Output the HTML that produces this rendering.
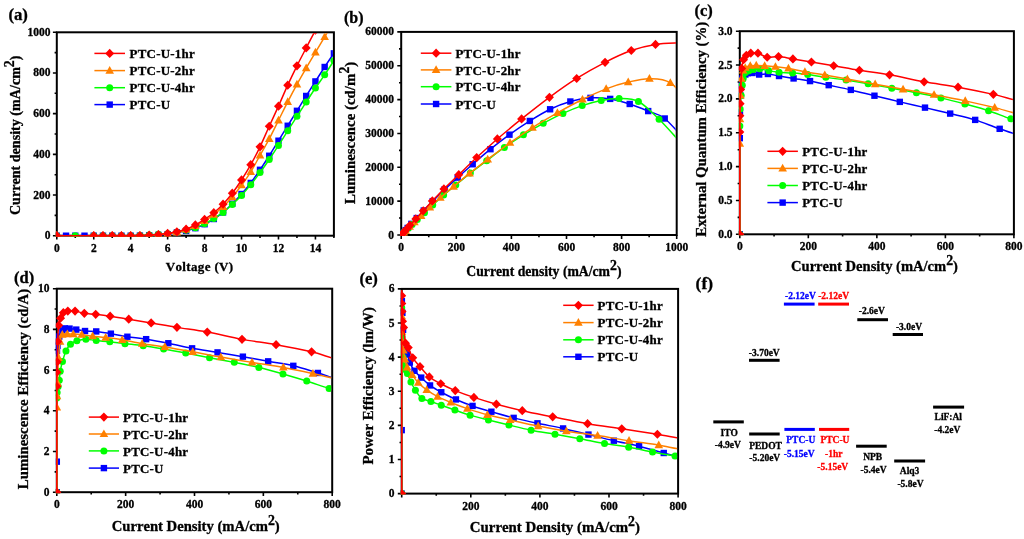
<!DOCTYPE html>
<html><head><meta charset="utf-8"><title>OLED device characteristics</title>
<style>html,body{margin:0;padding:0;background:#fff;width:1024px;height:539px;overflow:hidden}
svg{display:block;font-family:"Liberation Serif", serif;will-change:transform}
text{stroke:#000;stroke-width:0.3px;font-kerning:none}</style></head>
<body>
<svg width="1024" height="539" viewBox="0 0 1024 539" font-family='"Liberation Serif", serif' font-weight="bold">
<rect width="1024" height="539" fill="#fff"/>
<clipPath id="clipa"><rect x="55.8" y="33.3" width="277.1" height="203.4"/></clipPath>
<path d="M56.8 235.7V239.6M75.27 235.7V237.9M93.75 235.7V239.6M112.22 235.7V237.9M130.69 235.7V239.6M149.17 235.7V237.9M167.64 235.7V239.6M186.11 235.7V237.9M204.59 235.7V239.6M223.06 235.7V237.9M241.53 235.7V239.6M260.01 235.7V237.9M278.48 235.7V239.6M296.95 235.7V237.9M315.43 235.7V239.6M333.9 235.7V237.9M56.8 235.7H52.9M56.8 215.36H54.6M56.8 195.02H52.9M56.8 174.68H54.6M56.8 154.34H52.9M56.8 134H54.6M56.8 113.66H52.9M56.8 93.32H54.6M56.8 72.98H52.9M56.8 52.64H54.6M56.8 32.3H52.9" stroke="#000" stroke-width="1.6" fill="none"/>
<text x="56.8" y="252.3" text-anchor="middle" font-size="11.5">0</text>
<text x="93.75" y="252.3" text-anchor="middle" font-size="11.5">2</text>
<text x="130.69" y="252.3" text-anchor="middle" font-size="11.5">4</text>
<text x="167.64" y="252.3" text-anchor="middle" font-size="11.5">6</text>
<text x="204.59" y="252.3" text-anchor="middle" font-size="11.5">8</text>
<text x="241.53" y="252.3" text-anchor="middle" font-size="11.5">10</text>
<text x="278.48" y="252.3" text-anchor="middle" font-size="11.5">12</text>
<text x="315.43" y="252.3" text-anchor="middle" font-size="11.5">14</text>
<text x="50.6" y="239.2" text-anchor="end" font-size="11.5">0</text>
<text x="50.6" y="198.52" text-anchor="end" font-size="11.5">200</text>
<text x="50.6" y="157.84" text-anchor="end" font-size="11.5">400</text>
<text x="50.6" y="117.16" text-anchor="end" font-size="11.5">600</text>
<text x="50.6" y="76.48" text-anchor="end" font-size="11.5">800</text>
<text x="50.6" y="35.8" text-anchor="end" font-size="11.5">1000</text>
<rect x="56.8" y="32.3" width="277.1" height="203.4" fill="none" stroke="#000" stroke-width="2"/>
<g clip-path="url(#clipa)">
<path d="M56.8 235.7C58.34 235.7 62.96 235.7 66.04 235.7C69.12 235.7 72.19 235.7 75.27 235.7C78.35 235.7 81.43 235.7 84.51 235.7C87.59 235.7 90.67 235.7 93.75 235.7C96.83 235.7 99.9 235.7 102.98 235.7C106.06 235.7 109.14 235.7 112.22 235.7C115.3 235.7 118.38 235.7 121.46 235.7C124.54 235.7 127.61 235.71 130.69 235.69C133.77 235.67 136.85 235.66 139.93 235.6C143.01 235.53 146.09 235.41 149.17 235.29C152.25 235.17 155.32 235.06 158.4 234.89C161.48 234.71 164.56 234.65 167.64 234.24C170.72 233.82 173.8 232.96 176.88 232.4C179.96 231.85 183.03 231.63 186.11 230.92C189.19 230.21 192.27 229.29 195.35 228.17C198.43 227.06 201.51 225.73 204.59 224.21C207.67 222.68 210.74 220.99 213.82 219.02C216.9 217.06 219.98 214.95 223.06 212.41C226.14 209.87 229.22 206.83 232.3 203.77C235.38 200.7 238.45 197.48 241.53 194C244.61 190.53 247.69 186.95 250.77 182.92C253.85 178.88 256.93 174.32 260.01 169.8C263.09 165.27 266.16 160.61 269.24 155.76C272.32 150.92 275.4 145.71 278.48 140.71C281.56 135.71 284.64 130.75 287.72 125.76C290.8 120.78 293.87 115.78 296.95 110.81C300.03 105.85 303.11 100.86 306.19 95.96C309.27 91.07 312.35 86.25 315.43 81.42C318.51 76.59 321.58 71.66 324.66 66.98C327.74 62.3 330.82 57.66 333.9 53.35C336.98 49.05 340.06 45.67 343.14 41.15C346.22 36.62 350.83 28.69 352.37 26.2" stroke="#0000ff" stroke-width="1.5" fill="none" stroke-linejoin="round"/>
<rect x="53.6" y="232.5" width="6.4" height="6.4" fill="#0000ff"/>
<rect x="62.84" y="232.5" width="6.4" height="6.4" fill="#0000ff"/>
<rect x="72.07" y="232.5" width="6.4" height="6.4" fill="#0000ff"/>
<rect x="81.31" y="232.5" width="6.4" height="6.4" fill="#0000ff"/>
<rect x="90.55" y="232.5" width="6.4" height="6.4" fill="#0000ff"/>
<rect x="99.78" y="232.5" width="6.4" height="6.4" fill="#0000ff"/>
<rect x="109.02" y="232.5" width="6.4" height="6.4" fill="#0000ff"/>
<rect x="118.26" y="232.5" width="6.4" height="6.4" fill="#0000ff"/>
<rect x="127.49" y="232.49" width="6.4" height="6.4" fill="#0000ff"/>
<rect x="136.73" y="232.4" width="6.4" height="6.4" fill="#0000ff"/>
<rect x="145.97" y="232.09" width="6.4" height="6.4" fill="#0000ff"/>
<rect x="155.2" y="231.69" width="6.4" height="6.4" fill="#0000ff"/>
<rect x="164.44" y="231.04" width="6.4" height="6.4" fill="#0000ff"/>
<rect x="173.68" y="229.2" width="6.4" height="6.4" fill="#0000ff"/>
<rect x="182.91" y="227.72" width="6.4" height="6.4" fill="#0000ff"/>
<rect x="192.15" y="224.97" width="6.4" height="6.4" fill="#0000ff"/>
<rect x="201.39" y="221.01" width="6.4" height="6.4" fill="#0000ff"/>
<rect x="210.62" y="215.82" width="6.4" height="6.4" fill="#0000ff"/>
<rect x="219.86" y="209.21" width="6.4" height="6.4" fill="#0000ff"/>
<rect x="229.1" y="200.57" width="6.4" height="6.4" fill="#0000ff"/>
<rect x="238.33" y="190.8" width="6.4" height="6.4" fill="#0000ff"/>
<rect x="247.57" y="179.72" width="6.4" height="6.4" fill="#0000ff"/>
<rect x="256.81" y="166.6" width="6.4" height="6.4" fill="#0000ff"/>
<rect x="266.04" y="152.56" width="6.4" height="6.4" fill="#0000ff"/>
<rect x="275.28" y="137.51" width="6.4" height="6.4" fill="#0000ff"/>
<rect x="284.52" y="122.56" width="6.4" height="6.4" fill="#0000ff"/>
<rect x="293.75" y="107.61" width="6.4" height="6.4" fill="#0000ff"/>
<rect x="302.99" y="92.76" width="6.4" height="6.4" fill="#0000ff"/>
<rect x="312.23" y="78.22" width="6.4" height="6.4" fill="#0000ff"/>
<rect x="321.46" y="63.78" width="6.4" height="6.4" fill="#0000ff"/>
<rect x="330.7" y="50.15" width="6.4" height="6.4" fill="#0000ff"/>
<rect x="339.94" y="37.95" width="6.4" height="6.4" fill="#0000ff"/>
<rect x="349.17" y="23" width="6.4" height="6.4" fill="#0000ff"/>
</g>
<g clip-path="url(#clipa)">
<path d="M56.8 235.7C59.88 235.7 69.12 235.7 75.27 235.7C81.43 235.7 89.13 235.7 93.75 235.7C98.36 235.7 99.9 235.7 102.98 235.7C106.06 235.7 109.14 235.7 112.22 235.7C115.3 235.7 118.38 235.7 121.46 235.7C124.54 235.7 127.61 235.71 130.69 235.68C133.77 235.65 136.85 235.63 139.93 235.5C143.01 235.36 146.09 235.1 149.17 234.89C152.25 234.68 155.32 234.44 158.4 234.24C161.48 234.03 164.56 233.98 167.64 233.67C170.72 233.35 173.8 232.91 176.88 232.34C179.96 231.78 183.03 231.06 186.11 230.27C189.19 229.48 192.27 228.7 195.35 227.63C198.43 226.55 201.51 225.34 204.59 223.82C207.67 222.3 210.74 220.41 213.82 218.51C216.9 216.61 219.98 214.77 223.06 212.41C226.14 210.05 229.22 207.21 232.3 204.38C235.38 201.55 238.45 198.72 241.53 195.43C244.61 192.14 247.69 188.45 250.77 184.65C253.85 180.84 256.93 176.77 260.01 172.58C263.09 168.4 266.16 164.05 269.24 159.53C272.32 155 275.4 150.23 278.48 145.45C281.56 140.67 284.64 135.71 287.72 130.85C290.8 125.99 293.87 121.1 296.95 116.3C300.03 111.51 303.11 106.78 306.19 102.07C309.27 97.35 312.35 92.57 315.43 88.03C318.51 83.49 321.58 79.39 324.66 74.81C327.74 70.23 330.82 65.49 333.9 60.57C336.98 55.66 340.06 50.44 343.14 45.32C346.22 40.2 350.83 32.44 352.37 29.86" stroke="#00ff00" stroke-width="1.5" fill="none" stroke-linejoin="round"/>
<circle cx="56.8" cy="235.7" r="3.5" fill="#00ff00"/>
<circle cx="75.27" cy="235.7" r="3.5" fill="#00ff00"/>
<circle cx="93.75" cy="235.7" r="3.5" fill="#00ff00"/>
<circle cx="102.98" cy="235.7" r="3.5" fill="#00ff00"/>
<circle cx="112.22" cy="235.7" r="3.5" fill="#00ff00"/>
<circle cx="121.46" cy="235.7" r="3.5" fill="#00ff00"/>
<circle cx="130.69" cy="235.68" r="3.5" fill="#00ff00"/>
<circle cx="139.93" cy="235.5" r="3.5" fill="#00ff00"/>
<circle cx="149.17" cy="234.89" r="3.5" fill="#00ff00"/>
<circle cx="158.4" cy="234.24" r="3.5" fill="#00ff00"/>
<circle cx="167.64" cy="233.67" r="3.5" fill="#00ff00"/>
<circle cx="176.88" cy="232.34" r="3.5" fill="#00ff00"/>
<circle cx="186.11" cy="230.27" r="3.5" fill="#00ff00"/>
<circle cx="195.35" cy="227.63" r="3.5" fill="#00ff00"/>
<circle cx="204.59" cy="223.82" r="3.5" fill="#00ff00"/>
<circle cx="213.82" cy="218.51" r="3.5" fill="#00ff00"/>
<circle cx="223.06" cy="212.41" r="3.5" fill="#00ff00"/>
<circle cx="232.3" cy="204.38" r="3.5" fill="#00ff00"/>
<circle cx="241.53" cy="195.43" r="3.5" fill="#00ff00"/>
<circle cx="250.77" cy="184.65" r="3.5" fill="#00ff00"/>
<circle cx="260.01" cy="172.58" r="3.5" fill="#00ff00"/>
<circle cx="269.24" cy="159.53" r="3.5" fill="#00ff00"/>
<circle cx="278.48" cy="145.45" r="3.5" fill="#00ff00"/>
<circle cx="287.72" cy="130.85" r="3.5" fill="#00ff00"/>
<circle cx="296.95" cy="116.3" r="3.5" fill="#00ff00"/>
<circle cx="306.19" cy="102.07" r="3.5" fill="#00ff00"/>
<circle cx="315.43" cy="88.03" r="3.5" fill="#00ff00"/>
<circle cx="324.66" cy="74.81" r="3.5" fill="#00ff00"/>
<circle cx="333.9" cy="60.57" r="3.5" fill="#00ff00"/>
<circle cx="343.14" cy="45.32" r="3.5" fill="#00ff00"/>
<circle cx="352.37" cy="29.86" r="3.5" fill="#00ff00"/>
</g>
<g clip-path="url(#clipa)">
<path d="M56.8 235.7C62.96 235.7 86.05 235.7 93.75 235.7C101.44 235.7 99.9 235.7 102.98 235.7C106.06 235.7 109.14 235.7 112.22 235.7C115.3 235.7 118.38 235.7 121.46 235.7C124.54 235.7 127.61 235.7 130.69 235.68C133.77 235.66 136.85 235.66 139.93 235.6C143.01 235.53 146.09 235.45 149.17 235.29C152.25 235.14 155.32 234.94 158.4 234.68C161.48 234.43 164.56 234.14 167.64 233.77C170.72 233.39 173.8 233.16 176.88 232.45C179.96 231.73 183.03 230.56 186.11 229.48C189.19 228.39 192.27 227.36 195.35 225.94C198.43 224.52 201.51 222.85 204.59 220.95C207.67 219.06 210.74 216.9 213.82 214.55C216.9 212.19 219.98 209.73 223.06 206.82C226.14 203.9 229.22 200.65 232.3 197.05C235.38 193.46 238.45 189.46 241.53 185.26C244.61 181.05 247.69 176.82 250.77 171.83C253.85 166.85 256.93 160.87 260.01 155.36C263.09 149.85 266.16 144.61 269.24 138.78C272.32 132.95 275.4 126.53 278.48 120.37C281.56 114.22 284.64 107.86 287.72 101.86C290.8 95.86 293.87 90 296.95 84.37C300.03 78.74 303.11 73.42 306.19 68.1C309.27 62.78 312.35 57.62 315.43 52.44C318.51 47.25 321.58 42.2 324.66 36.98C327.74 31.76 332.36 23.76 333.9 21.11" stroke="#ff8000" stroke-width="1.5" fill="none" stroke-linejoin="round"/>
<path d="M56.8 231.1L61.1 238.8L52.5 238.8Z" fill="#ff8000"/>
<path d="M93.75 231.1L98.05 238.8L89.45 238.8Z" fill="#ff8000"/>
<path d="M102.98 231.1L107.28 238.8L98.68 238.8Z" fill="#ff8000"/>
<path d="M112.22 231.1L116.52 238.8L107.92 238.8Z" fill="#ff8000"/>
<path d="M121.46 231.1L125.76 238.8L117.16 238.8Z" fill="#ff8000"/>
<path d="M130.69 231.08L134.99 238.78L126.39 238.78Z" fill="#ff8000"/>
<path d="M139.93 231L144.23 238.7L135.63 238.7Z" fill="#ff8000"/>
<path d="M149.17 230.69L153.47 238.39L144.87 238.39Z" fill="#ff8000"/>
<path d="M158.4 230.08L162.7 237.78L154.1 237.78Z" fill="#ff8000"/>
<path d="M167.64 229.17L171.94 236.87L163.34 236.87Z" fill="#ff8000"/>
<path d="M176.88 227.85L181.18 235.55L172.58 235.55Z" fill="#ff8000"/>
<path d="M186.11 224.88L190.41 232.58L181.81 232.58Z" fill="#ff8000"/>
<path d="M195.35 221.34L199.65 229.04L191.05 229.04Z" fill="#ff8000"/>
<path d="M204.59 216.35L208.89 224.05L200.29 224.05Z" fill="#ff8000"/>
<path d="M213.82 209.95L218.12 217.65L209.52 217.65Z" fill="#ff8000"/>
<path d="M223.06 202.22L227.36 209.92L218.76 209.92Z" fill="#ff8000"/>
<path d="M232.3 192.45L236.6 200.15L228 200.15Z" fill="#ff8000"/>
<path d="M241.53 180.66L245.83 188.36L237.23 188.36Z" fill="#ff8000"/>
<path d="M250.77 167.23L255.07 174.93L246.47 174.93Z" fill="#ff8000"/>
<path d="M260.01 150.76L264.31 158.46L255.71 158.46Z" fill="#ff8000"/>
<path d="M269.24 134.18L273.54 141.88L264.94 141.88Z" fill="#ff8000"/>
<path d="M278.48 115.77L282.78 123.47L274.18 123.47Z" fill="#ff8000"/>
<path d="M287.72 97.26L292.02 104.96L283.42 104.96Z" fill="#ff8000"/>
<path d="M296.95 79.77L301.25 87.47L292.65 87.47Z" fill="#ff8000"/>
<path d="M306.19 63.5L310.49 71.2L301.89 71.2Z" fill="#ff8000"/>
<path d="M315.43 47.84L319.73 55.54L311.13 55.54Z" fill="#ff8000"/>
<path d="M324.66 32.38L328.96 40.08L320.36 40.08Z" fill="#ff8000"/>
<path d="M333.9 16.51L338.2 24.21L329.6 24.21Z" fill="#ff8000"/>
</g>
<g clip-path="url(#clipa)">
<path d="M56.8 235.7C62.96 235.7 86.05 235.7 93.75 235.7C101.44 235.7 99.9 235.7 102.98 235.7C106.06 235.7 109.14 235.7 112.22 235.7C115.3 235.7 118.38 235.7 121.46 235.69C124.54 235.68 127.61 235.67 130.69 235.64C133.77 235.61 136.85 235.57 139.93 235.5C143.01 235.42 146.09 235.34 149.17 235.19C152.25 235.04 155.32 234.87 158.4 234.58C161.48 234.29 164.56 233.92 167.64 233.46C170.72 233 173.8 232.55 176.88 231.84C179.96 231.12 183.03 230.34 186.11 229.19C189.19 228.04 192.27 226.55 195.35 224.92C198.43 223.29 201.51 221.46 204.59 219.43C207.67 217.39 210.74 215.26 213.82 212.72C216.9 210.17 219.98 207.43 223.06 204.17C226.14 200.92 229.22 197.22 232.3 193.19C235.38 189.16 238.45 184.71 241.53 179.97C244.61 175.22 247.69 170.24 250.77 164.71C253.85 159.19 256.93 153.22 260.01 146.81C263.09 140.41 266.16 133.05 269.24 126.27C272.32 119.49 275.4 112.98 278.48 106.13C281.56 99.29 284.64 91.9 287.72 85.18C290.8 78.47 293.87 72.06 296.95 65.86C300.03 59.66 303.11 53.89 306.19 47.96C309.27 42.03 313.89 33.22 315.43 30.27" stroke="#ff0000" stroke-width="1.5" fill="none" stroke-linejoin="round"/>
<path d="M56.8 231.1L61.3 235.7L56.8 240.3L52.3 235.7Z" fill="#ff0000"/>
<path d="M93.75 231.1L98.25 235.7L93.75 240.3L89.25 235.7Z" fill="#ff0000"/>
<path d="M102.98 231.1L107.48 235.7L102.98 240.3L98.48 235.7Z" fill="#ff0000"/>
<path d="M112.22 231.1L116.72 235.7L112.22 240.3L107.72 235.7Z" fill="#ff0000"/>
<path d="M121.46 231.09L125.96 235.69L121.46 240.29L116.96 235.69Z" fill="#ff0000"/>
<path d="M130.69 231.04L135.19 235.64L130.69 240.24L126.19 235.64Z" fill="#ff0000"/>
<path d="M139.93 230.9L144.43 235.5L139.93 240.1L135.43 235.5Z" fill="#ff0000"/>
<path d="M149.17 230.59L153.67 235.19L149.17 239.79L144.67 235.19Z" fill="#ff0000"/>
<path d="M158.4 229.98L162.9 234.58L158.4 239.18L153.9 234.58Z" fill="#ff0000"/>
<path d="M167.64 228.86L172.14 233.46L167.64 238.06L163.14 233.46Z" fill="#ff0000"/>
<path d="M176.88 227.24L181.38 231.84L176.88 236.44L172.38 231.84Z" fill="#ff0000"/>
<path d="M186.11 224.59L190.61 229.19L186.11 233.79L181.61 229.19Z" fill="#ff0000"/>
<path d="M195.35 220.32L199.85 224.92L195.35 229.52L190.85 224.92Z" fill="#ff0000"/>
<path d="M204.59 214.83L209.09 219.43L204.59 224.03L200.09 219.43Z" fill="#ff0000"/>
<path d="M213.82 208.12L218.32 212.72L213.82 217.32L209.32 212.72Z" fill="#ff0000"/>
<path d="M223.06 199.57L227.56 204.17L223.06 208.77L218.56 204.17Z" fill="#ff0000"/>
<path d="M232.3 188.59L236.8 193.19L232.3 197.79L227.8 193.19Z" fill="#ff0000"/>
<path d="M241.53 175.37L246.03 179.97L241.53 184.57L237.03 179.97Z" fill="#ff0000"/>
<path d="M250.77 160.11L255.27 164.71L250.77 169.31L246.27 164.71Z" fill="#ff0000"/>
<path d="M260.01 142.21L264.51 146.81L260.01 151.41L255.51 146.81Z" fill="#ff0000"/>
<path d="M269.24 121.67L273.74 126.27L269.24 130.87L264.74 126.27Z" fill="#ff0000"/>
<path d="M278.48 101.53L282.98 106.13L278.48 110.73L273.98 106.13Z" fill="#ff0000"/>
<path d="M287.72 80.58L292.22 85.18L287.72 89.78L283.22 85.18Z" fill="#ff0000"/>
<path d="M296.95 61.26L301.45 65.86L296.95 70.46L292.45 65.86Z" fill="#ff0000"/>
<path d="M306.19 43.36L310.69 47.96L306.19 52.56L301.69 47.96Z" fill="#ff0000"/>
<path d="M315.43 25.67L319.93 30.27L315.43 34.87L310.93 30.27Z" fill="#ff0000"/>
</g>
<path d="M94.4 53.4H125" stroke="#ff0000" stroke-width="1.5"/>
<path d="M109.7 48.8L114.2 53.4L109.7 58L105.2 53.4Z" fill="#ff0000"/>
<text x="129.6" y="58" font-size="12.9" letter-spacing="0.26">PTC-U-1hr</text>
<path d="M94.4 70.6H125" stroke="#ff8000" stroke-width="1.5"/>
<path d="M109.7 66L114 73.7L105.4 73.7Z" fill="#ff8000"/>
<text x="129.6" y="75.2" font-size="12.9" letter-spacing="0.26">PTC-U-2hr</text>
<path d="M94.4 87.7H125" stroke="#00ff00" stroke-width="1.5"/>
<circle cx="109.7" cy="87.7" r="3.5" fill="#00ff00"/>
<text x="129.6" y="92.3" font-size="12.9" letter-spacing="0.26">PTC-U-4hr</text>
<path d="M94.4 104.6H125" stroke="#0000ff" stroke-width="1.5"/>
<rect x="106.5" y="101.4" width="6.4" height="6.4" fill="#0000ff"/>
<text x="129.6" y="109.2" font-size="12.9" letter-spacing="0.26">PTC-U</text>
<text x="199.6" y="271.2" text-anchor="middle" font-size="13.0" letter-spacing="0.36">Voltage (V)</text>
<text transform="translate(20 135.3) rotate(-90)" text-anchor="middle" font-size="14.1">Current density (mA/cm<tspan font-size="13.8" dy="-6">2</tspan><tspan dy="6">)</tspan></text>
<text x="8.4" y="19.8" font-size="16.8">(a)</text>
<clipPath id="clipb"><rect x="400.2" y="32.9" width="275.5" height="203.1"/></clipPath>
<path d="M401.2 235V238.9M428.75 235V237.2M456.3 235V238.9M483.85 235V237.2M511.4 235V238.9M538.95 235V237.2M566.5 235V238.9M594.05 235V237.2M621.6 235V238.9M649.15 235V237.2M676.7 235V238.9M401.2 235H397.3M401.2 218.07H399M401.2 201.15H397.3M401.2 184.22H399M401.2 167.3H397.3M401.2 150.38H399M401.2 133.45H397.3M401.2 116.52H399M401.2 99.6H397.3M401.2 82.68H399M401.2 65.75H397.3M401.2 48.83H399M401.2 31.9H397.3" stroke="#000" stroke-width="1.6" fill="none"/>
<text x="401.2" y="250.7" text-anchor="middle" font-size="11.5">0</text>
<text x="456.3" y="250.7" text-anchor="middle" font-size="11.5">200</text>
<text x="511.4" y="250.7" text-anchor="middle" font-size="11.5">400</text>
<text x="566.5" y="250.7" text-anchor="middle" font-size="11.5">600</text>
<text x="621.6" y="250.7" text-anchor="middle" font-size="11.5">800</text>
<text x="676.7" y="250.7" text-anchor="middle" font-size="11.5">1000</text>
<text x="394" y="238.5" text-anchor="end" font-size="11.5">0</text>
<text x="394" y="204.65" text-anchor="end" font-size="11.5">10000</text>
<text x="394" y="170.8" text-anchor="end" font-size="11.5">20000</text>
<text x="394" y="136.95" text-anchor="end" font-size="11.5">30000</text>
<text x="394" y="103.1" text-anchor="end" font-size="11.5">40000</text>
<text x="394" y="69.25" text-anchor="end" font-size="11.5">50000</text>
<text x="394" y="35.4" text-anchor="end" font-size="11.5">60000</text>
<rect x="401.2" y="31.9" width="275.5" height="203.1" fill="none" stroke="#000" stroke-width="2"/>
<g clip-path="url(#clipb)">
<path d="M401.2 235C401.38 234.8 401.97 234.16 402.3 233.8C402.63 233.44 402.62 233.45 403.18 232.83C403.74 232.22 404.91 230.94 405.66 230.13C406.41 229.31 406.72 228.97 407.67 227.93C408.63 226.88 409.88 225.51 411.39 223.86C412.91 222.22 414.7 220.3 416.77 218.07C418.83 215.85 421.13 213.35 423.79 210.53C426.45 207.71 429.3 204.63 432.74 201.15C436.19 197.67 440.3 193.56 444.45 189.64C448.61 185.72 452.97 181.86 457.68 177.62C462.38 173.39 467.23 168.99 472.69 164.25C478.16 159.51 484.33 154.12 490.46 149.19C496.59 144.26 502.91 139.37 509.47 134.67C516.04 129.96 523.09 125.19 529.86 120.96C536.63 116.73 543.36 112.53 550.11 109.28C556.86 106.04 563.63 103.4 570.36 101.5C577.08 99.59 583.83 98.31 590.47 97.87C597.1 97.44 603.62 97.87 610.17 98.89C616.71 99.9 623.39 101.94 629.73 103.97C636.06 106 642.35 108.65 648.19 111.08C654.02 113.5 658.59 113.63 664.72 118.49C670.85 123.35 681.59 136.6 684.97 140.22" stroke="#0000ff" stroke-width="1.5" fill="none" stroke-linejoin="round"/>
<rect x="398" y="231.8" width="6.4" height="6.4" fill="#0000ff"/>
<rect x="399.1" y="230.6" width="6.4" height="6.4" fill="#0000ff"/>
<rect x="399.98" y="229.63" width="6.4" height="6.4" fill="#0000ff"/>
<rect x="402.46" y="226.93" width="6.4" height="6.4" fill="#0000ff"/>
<rect x="404.47" y="224.73" width="6.4" height="6.4" fill="#0000ff"/>
<rect x="408.19" y="220.66" width="6.4" height="6.4" fill="#0000ff"/>
<rect x="413.57" y="214.88" width="6.4" height="6.4" fill="#0000ff"/>
<rect x="420.59" y="207.33" width="6.4" height="6.4" fill="#0000ff"/>
<rect x="429.54" y="197.95" width="6.4" height="6.4" fill="#0000ff"/>
<rect x="441.25" y="186.44" width="6.4" height="6.4" fill="#0000ff"/>
<rect x="454.48" y="174.42" width="6.4" height="6.4" fill="#0000ff"/>
<rect x="469.49" y="161.05" width="6.4" height="6.4" fill="#0000ff"/>
<rect x="487.26" y="145.99" width="6.4" height="6.4" fill="#0000ff"/>
<rect x="506.27" y="131.47" width="6.4" height="6.4" fill="#0000ff"/>
<rect x="526.66" y="117.76" width="6.4" height="6.4" fill="#0000ff"/>
<rect x="546.91" y="106.08" width="6.4" height="6.4" fill="#0000ff"/>
<rect x="567.16" y="98.3" width="6.4" height="6.4" fill="#0000ff"/>
<rect x="587.27" y="94.67" width="6.4" height="6.4" fill="#0000ff"/>
<rect x="606.97" y="95.69" width="6.4" height="6.4" fill="#0000ff"/>
<rect x="626.53" y="100.77" width="6.4" height="6.4" fill="#0000ff"/>
<rect x="644.99" y="107.88" width="6.4" height="6.4" fill="#0000ff"/>
<rect x="661.52" y="115.29" width="6.4" height="6.4" fill="#0000ff"/>
<rect x="681.76" y="137.02" width="6.4" height="6.4" fill="#0000ff"/>
</g>
<g clip-path="url(#clipb)">
<path d="M401.2 235C401.53 234.68 402.72 233.54 403.18 233.1C403.64 232.66 403.53 232.77 403.95 232.36C404.38 231.95 404.98 231.37 405.75 230.63C406.51 229.9 407.49 228.98 408.56 227.96C409.62 226.94 410.68 225.9 412.14 224.51C413.59 223.11 415.23 221.54 417.29 219.6C419.35 217.65 421.9 215.25 424.48 212.83C427.06 210.4 429.55 208 432.74 205.04C435.94 202.08 439.79 198.41 443.63 195.06C447.46 191.7 451.3 188.57 455.75 184.9C460.2 181.23 465.19 177.1 470.35 173.05C475.51 169.01 481.02 164.9 486.69 160.63C492.36 156.37 498.25 151.76 504.37 147.46C510.5 143.17 516.97 138.89 523.44 134.87C529.91 130.85 536.64 126.95 543.22 123.36C549.8 119.78 556.42 116.34 562.92 113.38C569.42 110.42 575.82 107.74 582.2 105.59C588.59 103.44 595.06 101.66 601.21 100.48C607.37 99.3 612.92 98.31 619.12 98.48C625.32 98.65 631.75 98.03 638.41 101.5C645.06 104.96 652.13 112.53 659.07 119.27C666 126 676.52 138.14 680.01 141.91" stroke="#00ff00" stroke-width="1.5" fill="none" stroke-linejoin="round"/>
<circle cx="401.2" cy="235" r="3.5" fill="#00ff00"/>
<circle cx="403.18" cy="233.1" r="3.5" fill="#00ff00"/>
<circle cx="403.95" cy="232.36" r="3.5" fill="#00ff00"/>
<circle cx="405.75" cy="230.63" r="3.5" fill="#00ff00"/>
<circle cx="408.56" cy="227.96" r="3.5" fill="#00ff00"/>
<circle cx="412.14" cy="224.51" r="3.5" fill="#00ff00"/>
<circle cx="417.29" cy="219.6" r="3.5" fill="#00ff00"/>
<circle cx="424.48" cy="212.83" r="3.5" fill="#00ff00"/>
<circle cx="432.74" cy="205.04" r="3.5" fill="#00ff00"/>
<circle cx="443.63" cy="195.06" r="3.5" fill="#00ff00"/>
<circle cx="455.75" cy="184.9" r="3.5" fill="#00ff00"/>
<circle cx="470.35" cy="173.05" r="3.5" fill="#00ff00"/>
<circle cx="486.69" cy="160.63" r="3.5" fill="#00ff00"/>
<circle cx="504.37" cy="147.46" r="3.5" fill="#00ff00"/>
<circle cx="523.44" cy="134.87" r="3.5" fill="#00ff00"/>
<circle cx="543.22" cy="123.36" r="3.5" fill="#00ff00"/>
<circle cx="562.92" cy="113.38" r="3.5" fill="#00ff00"/>
<circle cx="582.2" cy="105.59" r="3.5" fill="#00ff00"/>
<circle cx="601.21" cy="100.48" r="3.5" fill="#00ff00"/>
<circle cx="619.12" cy="98.48" r="3.5" fill="#00ff00"/>
<circle cx="638.41" cy="101.5" r="3.5" fill="#00ff00"/>
<circle cx="659.07" cy="119.27" r="3.5" fill="#00ff00"/>
<circle cx="680.01" cy="141.91" r="3.5" fill="#00ff00"/>
</g>
<g clip-path="url(#clipb)">
<path d="M401.2 235C401.43 234.77 402.14 234.07 402.58 233.65C403.01 233.22 403.31 232.92 403.82 232.43C404.32 231.93 404.64 231.62 405.61 230.67C406.58 229.71 408.16 228.13 409.63 226.71C411.1 225.29 412.5 223.94 414.42 222.14C416.35 220.33 418.6 218.33 421.17 215.87C423.75 213.42 426.66 210.43 429.85 207.41C433.04 204.39 436.37 201.23 440.32 197.76C444.27 194.3 448.68 190.66 453.55 186.59C458.41 182.53 463.83 177.93 469.52 173.39C475.22 168.85 480.96 164.45 487.71 159.35C494.46 154.24 502.56 148.06 510.02 142.76C517.48 137.46 524.58 132.52 532.48 127.53C540.37 122.53 549.07 117.47 557.41 112.8C565.74 108.13 574.35 103.49 582.48 99.5C590.61 95.51 598.55 91.77 606.17 88.87C613.79 85.97 621 83.8 628.21 82.1C635.42 80.4 642.4 78.56 649.43 78.68C656.45 78.8 663.29 78.36 670.36 82.81C677.43 87.26 688.27 101.6 691.85 105.35" stroke="#ff8000" stroke-width="1.5" fill="none" stroke-linejoin="round"/>
<path d="M401.2 230.4L405.5 238.1L396.9 238.1Z" fill="#ff8000"/>
<path d="M402.58 229.05L406.88 236.75L398.28 236.75Z" fill="#ff8000"/>
<path d="M403.82 227.83L408.12 235.53L399.52 235.53Z" fill="#ff8000"/>
<path d="M405.61 226.07L409.91 233.77L401.31 233.77Z" fill="#ff8000"/>
<path d="M409.63 222.11L413.93 229.81L405.33 229.81Z" fill="#ff8000"/>
<path d="M414.42 217.54L418.72 225.24L410.12 225.24Z" fill="#ff8000"/>
<path d="M421.17 211.27L425.47 218.97L416.87 218.97Z" fill="#ff8000"/>
<path d="M429.85 202.81L434.15 210.51L425.55 210.51Z" fill="#ff8000"/>
<path d="M440.32 193.16L444.62 200.86L436.02 200.86Z" fill="#ff8000"/>
<path d="M453.55 181.99L457.85 189.69L449.25 189.69Z" fill="#ff8000"/>
<path d="M469.52 168.79L473.82 176.49L465.22 176.49Z" fill="#ff8000"/>
<path d="M487.71 154.75L492.01 162.45L483.41 162.45Z" fill="#ff8000"/>
<path d="M510.02 138.16L514.32 145.86L505.72 145.86Z" fill="#ff8000"/>
<path d="M532.48 122.93L536.78 130.63L528.18 130.63Z" fill="#ff8000"/>
<path d="M557.41 108.2L561.71 115.9L553.11 115.9Z" fill="#ff8000"/>
<path d="M582.48 94.9L586.78 102.6L578.18 102.6Z" fill="#ff8000"/>
<path d="M606.17 84.27L610.47 91.97L601.87 91.97Z" fill="#ff8000"/>
<path d="M628.21 77.5L632.51 85.2L623.91 85.2Z" fill="#ff8000"/>
<path d="M649.43 74.08L653.73 81.78L645.13 81.78Z" fill="#ff8000"/>
<path d="M670.36 78.21L674.66 85.91L666.06 85.91Z" fill="#ff8000"/>
<path d="M691.85 100.75L696.15 108.45L687.55 108.45Z" fill="#ff8000"/>
</g>
<g clip-path="url(#clipb)">
<path d="M401.2 235C401.45 234.73 402.21 233.93 402.72 233.38C403.22 232.82 403.61 232.36 404.23 231.68C404.85 231.01 405.47 230.37 406.43 229.31C407.4 228.26 408.45 227.08 410.02 225.35C411.58 223.62 413.6 221.34 415.8 218.92C418.01 216.5 420.49 213.83 423.24 210.83C426 207.83 428.89 204.56 432.33 200.91C435.78 197.26 439.49 193.31 443.9 188.93C448.31 184.55 453.32 179.88 458.78 174.65C464.24 169.42 470.26 163.5 476.69 157.55C483.12 151.6 489.87 145.4 497.35 138.97C504.83 132.54 512.92 125.9 521.59 118.96C530.27 112.03 540.24 104.11 549.42 97.37C558.6 90.62 567.42 84.32 576.69 78.48C585.97 72.63 595.98 66.96 605.07 62.3C614.16 57.64 622.84 53.5 631.24 50.52C639.65 47.54 647.45 45.69 655.49 44.42C663.52 43.16 675.46 43.16 679.46 42.9" stroke="#ff0000" stroke-width="1.5" fill="none" stroke-linejoin="round"/>
<path d="M401.2 230.4L405.7 235L401.2 239.6L396.7 235Z" fill="#ff0000"/>
<path d="M402.72 228.78L407.22 233.38L402.72 237.98L398.22 233.38Z" fill="#ff0000"/>
<path d="M404.23 227.08L408.73 231.68L404.23 236.28L399.73 231.68Z" fill="#ff0000"/>
<path d="M406.43 224.71L410.93 229.31L406.43 233.91L401.93 229.31Z" fill="#ff0000"/>
<path d="M410.02 220.75L414.52 225.35L410.02 229.95L405.52 225.35Z" fill="#ff0000"/>
<path d="M415.8 214.32L420.3 218.92L415.8 223.52L411.3 218.92Z" fill="#ff0000"/>
<path d="M423.24 206.23L427.74 210.83L423.24 215.43L418.74 210.83Z" fill="#ff0000"/>
<path d="M432.33 196.31L436.83 200.91L432.33 205.51L427.83 200.91Z" fill="#ff0000"/>
<path d="M443.9 184.33L448.4 188.93L443.9 193.53L439.4 188.93Z" fill="#ff0000"/>
<path d="M458.78 170.05L463.28 174.65L458.78 179.25L454.28 174.65Z" fill="#ff0000"/>
<path d="M476.69 152.95L481.19 157.55L476.69 162.15L472.19 157.55Z" fill="#ff0000"/>
<path d="M497.35 134.37L501.85 138.97L497.35 143.57L492.85 138.97Z" fill="#ff0000"/>
<path d="M521.59 114.36L526.09 118.96L521.59 123.56L517.09 118.96Z" fill="#ff0000"/>
<path d="M549.42 92.77L553.92 97.37L549.42 101.97L544.92 97.37Z" fill="#ff0000"/>
<path d="M576.69 73.88L581.19 78.48L576.69 83.08L572.19 78.48Z" fill="#ff0000"/>
<path d="M605.07 57.7L609.57 62.3L605.07 66.9L600.57 62.3Z" fill="#ff0000"/>
<path d="M631.24 45.92L635.74 50.52L631.24 55.12L626.74 50.52Z" fill="#ff0000"/>
<path d="M655.49 39.82L659.99 44.42L655.49 49.02L650.99 44.42Z" fill="#ff0000"/>
<path d="M679.46 38.3L683.96 42.9L679.46 47.5L674.96 42.9Z" fill="#ff0000"/>
</g>
<path d="M420.8 53.2H451.4" stroke="#ff0000" stroke-width="1.5"/>
<path d="M436.1 48.6L440.6 53.2L436.1 57.8L431.6 53.2Z" fill="#ff0000"/>
<text x="455.4" y="57.8" font-size="12.9" letter-spacing="0.26">PTC-U-1hr</text>
<path d="M420.8 69.9H451.4" stroke="#ff8000" stroke-width="1.5"/>
<path d="M436.1 65.3L440.4 73L431.8 73Z" fill="#ff8000"/>
<text x="455.4" y="74.5" font-size="12.9" letter-spacing="0.26">PTC-U-2hr</text>
<path d="M420.8 86.7H451.4" stroke="#00ff00" stroke-width="1.5"/>
<circle cx="436.1" cy="86.7" r="3.5" fill="#00ff00"/>
<text x="455.4" y="91.3" font-size="12.9" letter-spacing="0.26">PTC-U-4hr</text>
<path d="M420.8 104H451.4" stroke="#0000ff" stroke-width="1.5"/>
<rect x="432.9" y="100.8" width="6.4" height="6.4" fill="#0000ff"/>
<text x="455.4" y="108.6" font-size="12.9" letter-spacing="0.26">PTC-U</text>
<text x="543.9" y="275.5" text-anchor="middle" font-size="13.7" letter-spacing="0">Current density (mA/cm<tspan font-size="13.8" dy="-6">2</tspan><tspan dy="6">)</tspan></text>
<text transform="translate(354.8 132.8) rotate(-90)" text-anchor="middle" font-size="14.9">Luminescence (cd/m<tspan font-size="13.8" dy="-6">2</tspan><tspan dy="6">)</tspan></text>
<text x="344" y="22.8" font-size="16">(b)</text>
<clipPath id="clipc"><rect x="738.8" y="32.2" width="274.1" height="203.1"/></clipPath>
<path d="M739.8 234.3V238.2M774.06 234.3V236.5M808.32 234.3V238.2M842.59 234.3V236.5M876.85 234.3V238.2M911.11 234.3V236.5M945.38 234.3V238.2M979.64 234.3V236.5M1013.9 234.3V238.2M739.8 234.3H735.9M739.8 217.38H737.6M739.8 200.45H735.9M739.8 183.53H737.6M739.8 166.6H735.9M739.8 149.68H737.6M739.8 132.75H735.9M739.8 115.82H737.6M739.8 98.9H735.9M739.8 81.97H737.6M739.8 65.05H735.9M739.8 48.12H737.6M739.8 31.2H735.9" stroke="#000" stroke-width="1.6" fill="none"/>
<text x="739.8" y="249.6" text-anchor="middle" font-size="11.5">0</text>
<text x="808.32" y="249.6" text-anchor="middle" font-size="11.5">200</text>
<text x="876.85" y="249.6" text-anchor="middle" font-size="11.5">400</text>
<text x="945.38" y="249.6" text-anchor="middle" font-size="11.5">600</text>
<text x="1013.9" y="249.6" text-anchor="middle" font-size="11.5">800</text>
<text x="732.6" y="237.8" text-anchor="end" font-size="11.5">0.0</text>
<text x="732.6" y="203.95" text-anchor="end" font-size="11.5">0.5</text>
<text x="732.6" y="170.1" text-anchor="end" font-size="11.5">1.0</text>
<text x="732.6" y="136.25" text-anchor="end" font-size="11.5">1.5</text>
<text x="732.6" y="102.4" text-anchor="end" font-size="11.5">2.0</text>
<text x="732.6" y="68.55" text-anchor="end" font-size="11.5">2.5</text>
<text x="732.6" y="34.7" text-anchor="end" font-size="11.5">3.0</text>
<rect x="739.8" y="31.2" width="274.1" height="203.1" fill="none" stroke="#000" stroke-width="2"/>
<g clip-path="url(#clipc)">
<path d="M739.8 234.3C739.8 218.28 739.79 158.48 739.82 138.17C739.85 117.86 739.86 119.55 739.97 112.44C740.08 105.33 740.29 100.03 740.49 95.52C740.69 91 740.87 88.18 741.17 85.36C741.47 82.54 741.57 80.4 742.27 78.59C742.96 76.78 744.42 75.43 745.35 74.53C746.28 73.63 746.66 73.43 747.85 73.17C749.04 72.91 750.59 72.75 752.48 72.97C754.36 73.2 756.59 74.36 759.16 74.53C761.73 74.7 764.58 73.74 767.9 73.99C771.21 74.23 774.75 75.27 779.03 76.02C783.31 76.76 788.42 77.61 793.59 78.45C798.76 79.3 804.18 79.98 810.04 81.09C815.89 82.21 821.92 83.69 828.71 85.16C835.51 86.62 843.19 88.14 850.81 89.9C858.43 91.66 866.29 93.72 874.45 95.72C882.62 97.72 891.38 99.89 899.81 101.88C908.23 103.86 916.59 105.68 924.99 107.63C933.38 109.59 941.81 111.55 950.17 113.59C958.54 115.63 966.93 117.35 975.18 119.89C983.43 122.43 991.54 126.12 999.68 128.82C1007.82 131.53 1016.13 134.92 1024.01 136.13C1031.89 137.35 1039.71 136.13 1046.96 136.13C1054.22 136.13 1059.9 136.13 1067.52 136.13C1075.14 136.13 1088.51 136.13 1092.7 136.13" stroke="#0000ff" stroke-width="1.5" fill="none" stroke-linejoin="round"/>
<rect x="736.6" y="231.1" width="6.4" height="6.4" fill="#0000ff"/>
<rect x="736.62" y="134.97" width="6.4" height="6.4" fill="#0000ff"/>
<rect x="736.77" y="109.24" width="6.4" height="6.4" fill="#0000ff"/>
<rect x="737.29" y="92.32" width="6.4" height="6.4" fill="#0000ff"/>
<rect x="737.97" y="82.16" width="6.4" height="6.4" fill="#0000ff"/>
<rect x="739.07" y="75.39" width="6.4" height="6.4" fill="#0000ff"/>
<rect x="742.15" y="71.33" width="6.4" height="6.4" fill="#0000ff"/>
<rect x="744.65" y="69.97" width="6.4" height="6.4" fill="#0000ff"/>
<rect x="749.28" y="69.77" width="6.4" height="6.4" fill="#0000ff"/>
<rect x="755.96" y="71.33" width="6.4" height="6.4" fill="#0000ff"/>
<rect x="764.7" y="70.79" width="6.4" height="6.4" fill="#0000ff"/>
<rect x="775.83" y="72.82" width="6.4" height="6.4" fill="#0000ff"/>
<rect x="790.39" y="75.25" width="6.4" height="6.4" fill="#0000ff"/>
<rect x="806.84" y="77.89" width="6.4" height="6.4" fill="#0000ff"/>
<rect x="825.51" y="81.96" width="6.4" height="6.4" fill="#0000ff"/>
<rect x="847.61" y="86.7" width="6.4" height="6.4" fill="#0000ff"/>
<rect x="871.25" y="92.52" width="6.4" height="6.4" fill="#0000ff"/>
<rect x="896.61" y="98.68" width="6.4" height="6.4" fill="#0000ff"/>
<rect x="921.79" y="104.43" width="6.4" height="6.4" fill="#0000ff"/>
<rect x="946.97" y="110.39" width="6.4" height="6.4" fill="#0000ff"/>
<rect x="971.98" y="116.69" width="6.4" height="6.4" fill="#0000ff"/>
<rect x="996.48" y="125.62" width="6.4" height="6.4" fill="#0000ff"/>
<rect x="1020.81" y="132.94" width="6.4" height="6.4" fill="#0000ff"/>
<rect x="1043.76" y="132.94" width="6.4" height="6.4" fill="#0000ff"/>
<rect x="1064.32" y="132.94" width="6.4" height="6.4" fill="#0000ff"/>
<rect x="1089.5" y="132.94" width="6.4" height="6.4" fill="#0000ff"/>
</g>
<g clip-path="url(#clipc)">
<path d="M739.8 234.3C739.81 216.25 739.78 146.85 739.83 125.98C739.89 105.11 739.92 114.13 740.14 109.05C740.37 103.98 740.82 99.46 741.17 95.52C741.52 91.57 741.92 88.18 742.27 85.36C742.61 82.54 742.7 80.73 743.23 78.59C743.76 76.45 744.5 73.78 745.45 72.5C746.41 71.21 747.62 71.38 748.95 70.87C750.27 70.36 751.59 69.79 753.4 69.45C755.21 69.11 757.25 68.6 759.81 68.84C762.37 69.08 765.55 70.3 768.75 70.87C771.96 71.45 775.06 71.94 779.03 72.29C783 72.64 787.8 72.62 792.56 72.97C797.33 73.32 802.1 73.66 807.64 74.39C813.18 75.13 819.39 76.42 825.8 77.37C832.21 78.32 839.06 79.02 846.12 80.08C853.17 81.14 860.5 82.37 868.11 83.74C875.73 85.1 883.77 86.76 891.82 88.27C899.87 89.78 908.24 91.2 916.42 92.81C924.61 94.41 932.84 96.02 940.92 97.88C949 99.75 956.97 101.84 964.9 103.98C972.84 106.11 980.89 108.2 988.55 110.68C996.2 113.16 1003.11 116.32 1010.82 118.87C1018.53 121.42 1026.52 124.8 1034.8 125.98C1043.08 127.16 1051.87 125.98 1060.5 125.98C1069.12 125.98 1082.2 125.98 1086.54 125.98" stroke="#00ff00" stroke-width="1.5" fill="none" stroke-linejoin="round"/>
<circle cx="739.8" cy="234.3" r="3.5" fill="#00ff00"/>
<circle cx="739.83" cy="125.98" r="3.5" fill="#00ff00"/>
<circle cx="740.14" cy="109.05" r="3.5" fill="#00ff00"/>
<circle cx="741.17" cy="95.52" r="3.5" fill="#00ff00"/>
<circle cx="742.27" cy="85.36" r="3.5" fill="#00ff00"/>
<circle cx="743.23" cy="78.59" r="3.5" fill="#00ff00"/>
<circle cx="745.45" cy="72.5" r="3.5" fill="#00ff00"/>
<circle cx="748.95" cy="70.87" r="3.5" fill="#00ff00"/>
<circle cx="753.4" cy="69.45" r="3.5" fill="#00ff00"/>
<circle cx="759.81" cy="68.84" r="3.5" fill="#00ff00"/>
<circle cx="768.75" cy="70.87" r="3.5" fill="#00ff00"/>
<circle cx="779.03" cy="72.29" r="3.5" fill="#00ff00"/>
<circle cx="792.56" cy="72.97" r="3.5" fill="#00ff00"/>
<circle cx="807.64" cy="74.39" r="3.5" fill="#00ff00"/>
<circle cx="825.8" cy="77.37" r="3.5" fill="#00ff00"/>
<circle cx="846.12" cy="80.08" r="3.5" fill="#00ff00"/>
<circle cx="868.11" cy="83.74" r="3.5" fill="#00ff00"/>
<circle cx="891.82" cy="88.27" r="3.5" fill="#00ff00"/>
<circle cx="916.42" cy="92.81" r="3.5" fill="#00ff00"/>
<circle cx="940.92" cy="97.88" r="3.5" fill="#00ff00"/>
<circle cx="964.9" cy="103.98" r="3.5" fill="#00ff00"/>
<circle cx="988.55" cy="110.68" r="3.5" fill="#00ff00"/>
<circle cx="1010.82" cy="118.87" r="3.5" fill="#00ff00"/>
<circle cx="1034.8" cy="125.98" r="3.5" fill="#00ff00"/>
<circle cx="1060.5" cy="125.98" r="3.5" fill="#00ff00"/>
<circle cx="1086.54" cy="125.98" r="3.5" fill="#00ff00"/>
</g>
<g clip-path="url(#clipc)">
<path d="M739.8 234.3C739.81 219.18 739.81 162.76 739.83 143.58C739.86 124.4 739.86 127.22 739.97 119.21C740.08 111.2 740.23 102.29 740.49 95.52C740.74 88.75 741.08 82.76 741.51 78.59C741.94 74.42 742.43 72.27 743.05 70.47C743.68 68.66 744.08 68.55 745.28 67.76C746.49 66.97 748.46 66.12 750.28 65.73C752.11 65.33 753.85 65.38 756.25 65.39C758.64 65.4 761.44 65.57 764.64 65.79C767.84 66.02 771.46 66.33 775.43 66.74C779.4 67.16 783.54 67.45 788.45 68.3C793.36 69.15 798.85 70.7 804.9 71.82C810.95 72.94 817.69 73.79 824.77 75C831.85 76.21 838.99 77.54 847.38 79.06C855.78 80.59 865.86 82.44 875.14 84.14C884.42 85.85 893.24 87.52 903.06 89.29C912.88 91.06 923.7 92.84 934.07 94.77C944.43 96.7 955.14 98.72 965.25 100.86C975.35 103.01 985.23 105.37 994.71 107.63C1004.19 109.9 1013.16 113.33 1022.12 114.47C1031.09 115.61 1039.77 114.47 1048.51 114.47C1057.24 114.47 1065.75 114.47 1074.54 114.47C1083.34 114.47 1096.82 114.47 1101.27 114.47" stroke="#ff8000" stroke-width="1.5" fill="none" stroke-linejoin="round"/>
<path d="M739.8 229.7L744.1 237.4L735.5 237.4Z" fill="#ff8000"/>
<path d="M739.83 138.98L744.13 146.68L735.53 146.68Z" fill="#ff8000"/>
<path d="M739.97 114.61L744.27 122.31L735.67 122.31Z" fill="#ff8000"/>
<path d="M740.49 90.92L744.79 98.62L736.19 98.62Z" fill="#ff8000"/>
<path d="M741.51 73.99L745.81 81.69L737.21 81.69Z" fill="#ff8000"/>
<path d="M743.05 65.87L747.35 73.57L738.75 73.57Z" fill="#ff8000"/>
<path d="M745.28 63.16L749.58 70.86L740.98 70.86Z" fill="#ff8000"/>
<path d="M750.28 61.13L754.58 68.83L745.98 68.83Z" fill="#ff8000"/>
<path d="M756.25 60.79L760.55 68.49L751.95 68.49Z" fill="#ff8000"/>
<path d="M764.64 61.19L768.94 68.89L760.34 68.89Z" fill="#ff8000"/>
<path d="M775.43 62.14L779.73 69.84L771.13 69.84Z" fill="#ff8000"/>
<path d="M788.45 63.7L792.75 71.4L784.15 71.4Z" fill="#ff8000"/>
<path d="M804.9 67.22L809.2 74.92L800.6 74.92Z" fill="#ff8000"/>
<path d="M824.77 70.4L829.07 78.1L820.47 78.1Z" fill="#ff8000"/>
<path d="M847.38 74.46L851.68 82.16L843.08 82.16Z" fill="#ff8000"/>
<path d="M875.14 79.54L879.44 87.24L870.84 87.24Z" fill="#ff8000"/>
<path d="M903.06 84.69L907.36 92.39L898.76 92.39Z" fill="#ff8000"/>
<path d="M934.07 90.17L938.37 97.87L929.77 97.87Z" fill="#ff8000"/>
<path d="M965.25 96.26L969.55 103.96L960.95 103.96Z" fill="#ff8000"/>
<path d="M994.71 103.03L999.01 110.73L990.41 110.73Z" fill="#ff8000"/>
<path d="M1022.12 109.87L1026.42 117.57L1017.82 117.57Z" fill="#ff8000"/>
<path d="M1048.51 109.87L1052.81 117.57L1044.21 117.57Z" fill="#ff8000"/>
<path d="M1074.54 109.87L1078.84 117.57L1070.24 117.57Z" fill="#ff8000"/>
<path d="M1101.27 109.87L1105.57 117.57L1096.97 117.57Z" fill="#ff8000"/>
</g>
<g clip-path="url(#clipc)">
<path d="M739.8 234.3C739.8 217.26 739.8 151.82 739.82 132.07C739.83 112.33 739.85 120.56 739.9 115.82C739.96 111.09 740.02 108.04 740.14 103.64C740.27 99.24 740.4 95.29 740.66 89.42C740.91 83.55 741.2 73.4 741.68 68.43C742.17 63.47 742.8 61.83 743.57 59.63C744.34 57.43 745.11 56.31 746.31 55.23C747.51 54.16 748.82 53.54 750.76 53.2C752.71 52.86 755.22 52.53 757.96 53.2C760.7 53.88 763.78 56.7 767.21 57.26C770.64 57.83 774.23 56.31 778.52 56.59C782.8 56.87 787.42 58.05 792.91 58.96C798.39 59.86 804.61 60.88 811.41 62C818.2 63.13 825.68 64.35 833.68 65.73C841.67 67.1 850.07 68.75 859.38 70.26C868.68 71.77 878.73 72.87 889.53 74.8C900.32 76.73 912.71 79.77 924.13 81.84C935.55 83.9 946.52 85.1 958.05 87.19C969.59 89.28 982.04 91.85 993.34 94.36C1004.65 96.88 1015.44 100.96 1025.89 102.28C1036.34 103.61 1046.05 102.28 1056.04 102.28C1066.04 102.28 1080.88 102.28 1085.85 102.28" stroke="#ff0000" stroke-width="1.5" fill="none" stroke-linejoin="round"/>
<path d="M739.8 229.7L744.3 234.3L739.8 238.9L735.3 234.3Z" fill="#ff0000"/>
<path d="M739.82 127.47L744.32 132.07L739.82 136.67L735.32 132.07Z" fill="#ff0000"/>
<path d="M739.9 111.22L744.4 115.82L739.9 120.42L735.4 115.82Z" fill="#ff0000"/>
<path d="M740.14 99.04L744.64 103.64L740.14 108.24L735.64 103.64Z" fill="#ff0000"/>
<path d="M740.66 84.82L745.16 89.42L740.66 94.02L736.16 89.42Z" fill="#ff0000"/>
<path d="M741.68 63.83L746.18 68.43L741.68 73.03L737.18 68.43Z" fill="#ff0000"/>
<path d="M743.57 55.03L748.07 59.63L743.57 64.23L739.07 59.63Z" fill="#ff0000"/>
<path d="M746.31 50.63L750.81 55.23L746.31 59.83L741.81 55.23Z" fill="#ff0000"/>
<path d="M750.76 48.6L755.26 53.2L750.76 57.8L746.26 53.2Z" fill="#ff0000"/>
<path d="M757.96 48.6L762.46 53.2L757.96 57.8L753.46 53.2Z" fill="#ff0000"/>
<path d="M767.21 52.66L771.71 57.26L767.21 61.86L762.71 57.26Z" fill="#ff0000"/>
<path d="M778.52 51.99L783.02 56.59L778.52 61.19L774.02 56.59Z" fill="#ff0000"/>
<path d="M792.91 54.36L797.41 58.96L792.91 63.56L788.41 58.96Z" fill="#ff0000"/>
<path d="M811.41 57.4L815.91 62L811.41 66.6L806.91 62Z" fill="#ff0000"/>
<path d="M833.68 61.13L838.18 65.73L833.68 70.33L829.18 65.73Z" fill="#ff0000"/>
<path d="M859.38 65.66L863.88 70.26L859.38 74.86L854.88 70.26Z" fill="#ff0000"/>
<path d="M889.53 70.2L894.03 74.8L889.53 79.4L885.03 74.8Z" fill="#ff0000"/>
<path d="M924.13 77.24L928.63 81.84L924.13 86.44L919.63 81.84Z" fill="#ff0000"/>
<path d="M958.05 82.59L962.55 87.19L958.05 91.79L953.55 87.19Z" fill="#ff0000"/>
<path d="M993.34 89.76L997.84 94.36L993.34 98.96L988.84 94.36Z" fill="#ff0000"/>
<path d="M1025.89 97.69L1030.39 102.28L1025.89 106.88L1021.39 102.28Z" fill="#ff0000"/>
<path d="M1056.04 97.69L1060.54 102.28L1056.04 106.88L1051.54 102.28Z" fill="#ff0000"/>
<path d="M1085.85 97.69L1090.35 102.28L1085.85 106.88L1081.35 102.28Z" fill="#ff0000"/>
</g>
<path d="M767.4 151.3H797.9" stroke="#ff0000" stroke-width="1.5"/>
<path d="M782.65 146.7L787.15 151.3L782.65 155.9L778.15 151.3Z" fill="#ff0000"/>
<text x="802.2" y="155.9" font-size="12.9" letter-spacing="0.26">PTC-U-1hr</text>
<path d="M767.4 168.4H797.9" stroke="#ff8000" stroke-width="1.5"/>
<path d="M782.65 163.8L786.95 171.5L778.35 171.5Z" fill="#ff8000"/>
<text x="802.2" y="173" font-size="12.9" letter-spacing="0.26">PTC-U-2hr</text>
<path d="M767.4 185.5H797.9" stroke="#00ff00" stroke-width="1.5"/>
<circle cx="782.65" cy="185.5" r="3.5" fill="#00ff00"/>
<text x="802.2" y="190.1" font-size="12.9" letter-spacing="0.26">PTC-U-4hr</text>
<path d="M767.4 202.6H797.9" stroke="#0000ff" stroke-width="1.5"/>
<rect x="779.45" y="199.4" width="6.4" height="6.4" fill="#0000ff"/>
<text x="802.2" y="207.2" font-size="12.9" letter-spacing="0.26">PTC-U</text>
<text x="874.5" y="270.9" text-anchor="middle" font-size="14.55" letter-spacing="0">Current Density (mA/cm<tspan font-size="13.8" dy="-6">2</tspan><tspan dy="6">)</tspan></text>
<text transform="translate(706.3 129.2) rotate(-90)" text-anchor="middle" font-size="14.8">External Quantum Efficiency (%)</text>
<text x="694.4" y="15.7" font-size="16.5">(c)</text>
<clipPath id="clipd"><rect x="55.8" y="289.7" width="275.4" height="203.5"/></clipPath>
<path d="M56.8 492.2V496.1M91.22 492.2V494.4M125.65 492.2V496.1M160.07 492.2V494.4M194.5 492.2V496.1M228.93 492.2V494.4M263.35 492.2V496.1M297.77 492.2V494.4M332.2 492.2V496.1M56.8 492.2H52.9M56.8 471.85H54.6M56.8 451.5H52.9M56.8 431.15H54.6M56.8 410.8H52.9M56.8 390.45H54.6M56.8 370.1H52.9M56.8 349.75H54.6M56.8 329.4H52.9M56.8 309.05H54.6M56.8 288.7H52.9" stroke="#000" stroke-width="1.6" fill="none"/>
<text x="56.8" y="508.4" text-anchor="middle" font-size="11.5">0</text>
<text x="125.65" y="508.4" text-anchor="middle" font-size="11.5">200</text>
<text x="194.5" y="508.4" text-anchor="middle" font-size="11.5">400</text>
<text x="263.35" y="508.4" text-anchor="middle" font-size="11.5">600</text>
<text x="332.2" y="508.4" text-anchor="middle" font-size="11.5">800</text>
<text x="49.6" y="495.7" text-anchor="end" font-size="11.5">0</text>
<text x="49.6" y="455" text-anchor="end" font-size="11.5">2</text>
<text x="49.6" y="414.3" text-anchor="end" font-size="11.5">4</text>
<text x="49.6" y="373.6" text-anchor="end" font-size="11.5">6</text>
<text x="49.6" y="332.9" text-anchor="end" font-size="11.5">8</text>
<text x="49.6" y="292.2" text-anchor="end" font-size="11.5">10</text>
<rect x="56.8" y="288.7" width="275.4" height="203.5" fill="none" stroke="#000" stroke-width="2"/>
<g clip-path="url(#clipd)">
<path d="M56.8 492.2C56.8 487.11 56.79 485.25 56.82 461.67C56.85 438.1 56.86 370.1 56.97 350.77C57.08 331.44 57.29 347.21 57.49 345.68C57.69 344.15 57.88 343.14 58.18 341.61C58.48 340.08 58.58 338.39 59.28 336.52C59.98 334.66 61.44 331.77 62.38 330.42C63.31 329.06 63.7 328.69 64.89 328.38C66.08 328.08 67.64 328.38 69.54 328.59C71.43 328.79 73.67 329.2 76.25 329.6C78.83 330.01 81.7 330.72 85.03 331.03C88.36 331.33 91.91 330.99 96.22 331.43C100.52 331.88 105.65 332.79 110.85 333.67C116.04 334.56 121.49 335.81 127.37 336.73C133.25 337.64 139.31 338.08 146.13 339.17C152.96 340.25 160.68 341.71 168.34 343.24C176 344.76 183.89 346.8 192.09 348.33C200.29 349.85 209.1 351 217.56 352.4C226.03 353.79 234.43 355.18 242.87 356.67C251.3 358.16 259.76 359.82 268.17 361.35C276.57 362.88 285.01 363.89 293.3 365.83C301.59 367.76 309.74 370.54 317.91 372.95C326.09 375.36 334.44 379.05 342.36 380.27C350.27 381.5 358.13 380.27 365.42 380.27C372.71 380.27 378.42 380.27 386.08 380.27C393.73 380.27 407.16 380.27 411.38 380.27" stroke="#0000ff" stroke-width="1.5" fill="none" stroke-linejoin="round"/>
<rect x="53.6" y="489" width="6.4" height="6.4" fill="#0000ff"/>
<rect x="53.62" y="458.47" width="6.4" height="6.4" fill="#0000ff"/>
<rect x="53.77" y="347.57" width="6.4" height="6.4" fill="#0000ff"/>
<rect x="54.29" y="342.48" width="6.4" height="6.4" fill="#0000ff"/>
<rect x="54.98" y="338.41" width="6.4" height="6.4" fill="#0000ff"/>
<rect x="56.08" y="333.32" width="6.4" height="6.4" fill="#0000ff"/>
<rect x="59.18" y="327.22" width="6.4" height="6.4" fill="#0000ff"/>
<rect x="61.69" y="325.18" width="6.4" height="6.4" fill="#0000ff"/>
<rect x="66.34" y="325.39" width="6.4" height="6.4" fill="#0000ff"/>
<rect x="73.05" y="326.4" width="6.4" height="6.4" fill="#0000ff"/>
<rect x="81.83" y="327.83" width="6.4" height="6.4" fill="#0000ff"/>
<rect x="93.02" y="328.23" width="6.4" height="6.4" fill="#0000ff"/>
<rect x="107.65" y="330.47" width="6.4" height="6.4" fill="#0000ff"/>
<rect x="124.17" y="333.53" width="6.4" height="6.4" fill="#0000ff"/>
<rect x="142.93" y="335.97" width="6.4" height="6.4" fill="#0000ff"/>
<rect x="165.14" y="340.04" width="6.4" height="6.4" fill="#0000ff"/>
<rect x="188.89" y="345.13" width="6.4" height="6.4" fill="#0000ff"/>
<rect x="214.36" y="349.2" width="6.4" height="6.4" fill="#0000ff"/>
<rect x="239.67" y="353.47" width="6.4" height="6.4" fill="#0000ff"/>
<rect x="264.97" y="358.15" width="6.4" height="6.4" fill="#0000ff"/>
<rect x="290.1" y="362.63" width="6.4" height="6.4" fill="#0000ff"/>
<rect x="314.71" y="369.75" width="6.4" height="6.4" fill="#0000ff"/>
<rect x="339.16" y="377.07" width="6.4" height="6.4" fill="#0000ff"/>
<rect x="362.22" y="377.07" width="6.4" height="6.4" fill="#0000ff"/>
<rect x="382.88" y="377.07" width="6.4" height="6.4" fill="#0000ff"/>
<rect x="408.18" y="377.07" width="6.4" height="6.4" fill="#0000ff"/>
</g>
<g clip-path="url(#clipd)">
<path d="M56.8 492.2C56.81 476.5 56.78 414.6 56.83 397.98C56.89 381.36 56.92 394.42 57.14 392.49C57.37 390.55 57.82 388.42 58.18 386.38C58.53 384.34 58.93 382.78 59.28 380.27C59.62 377.77 59.71 374.44 60.24 371.32C60.78 368.2 61.52 364.94 62.48 361.55C63.44 358.16 64.66 353.85 65.99 350.97C67.32 348.09 68.65 345.95 70.47 344.26C72.29 342.56 74.33 341.64 76.9 340.8C79.47 339.95 82.67 339.2 85.89 339.17C89.11 339.13 92.23 340.15 96.22 340.59C100.2 341.03 105.02 341.3 109.81 341.81C114.61 342.32 119.4 343 124.96 343.64C130.53 344.29 136.76 344.8 143.21 345.68C149.65 346.56 156.53 347.72 163.62 348.94C170.71 350.16 178.07 351.55 185.72 353.01C193.38 354.46 201.45 356.13 209.54 357.69C217.63 359.25 226.04 360.74 234.26 362.37C242.48 363.99 250.76 365.52 258.87 367.45C266.99 369.39 275 371.69 282.97 373.97C290.95 376.24 299.04 378.68 306.73 381.09C314.41 383.5 321.36 386.01 329.1 388.41C336.85 390.82 344.88 394.35 353.2 395.54C361.52 396.72 370.35 395.54 379.02 395.54C387.68 395.54 400.82 395.54 405.18 395.54" stroke="#00ff00" stroke-width="1.5" fill="none" stroke-linejoin="round"/>
<circle cx="56.8" cy="492.2" r="3.5" fill="#00ff00"/>
<circle cx="56.83" cy="397.98" r="3.5" fill="#00ff00"/>
<circle cx="57.14" cy="392.49" r="3.5" fill="#00ff00"/>
<circle cx="58.18" cy="386.38" r="3.5" fill="#00ff00"/>
<circle cx="59.28" cy="380.27" r="3.5" fill="#00ff00"/>
<circle cx="60.24" cy="371.32" r="3.5" fill="#00ff00"/>
<circle cx="62.48" cy="361.55" r="3.5" fill="#00ff00"/>
<circle cx="65.99" cy="350.97" r="3.5" fill="#00ff00"/>
<circle cx="70.47" cy="344.26" r="3.5" fill="#00ff00"/>
<circle cx="76.9" cy="340.8" r="3.5" fill="#00ff00"/>
<circle cx="85.89" cy="339.17" r="3.5" fill="#00ff00"/>
<circle cx="96.22" cy="340.59" r="3.5" fill="#00ff00"/>
<circle cx="109.81" cy="341.81" r="3.5" fill="#00ff00"/>
<circle cx="124.96" cy="343.64" r="3.5" fill="#00ff00"/>
<circle cx="143.21" cy="345.68" r="3.5" fill="#00ff00"/>
<circle cx="163.62" cy="348.94" r="3.5" fill="#00ff00"/>
<circle cx="185.72" cy="353.01" r="3.5" fill="#00ff00"/>
<circle cx="209.54" cy="357.69" r="3.5" fill="#00ff00"/>
<circle cx="234.26" cy="362.37" r="3.5" fill="#00ff00"/>
<circle cx="258.87" cy="367.45" r="3.5" fill="#00ff00"/>
<circle cx="282.97" cy="373.97" r="3.5" fill="#00ff00"/>
<circle cx="306.73" cy="381.09" r="3.5" fill="#00ff00"/>
<circle cx="329.1" cy="388.41" r="3.5" fill="#00ff00"/>
<circle cx="353.2" cy="395.54" r="3.5" fill="#00ff00"/>
<circle cx="379.02" cy="395.54" r="3.5" fill="#00ff00"/>
<circle cx="405.18" cy="395.54" r="3.5" fill="#00ff00"/>
</g>
<g clip-path="url(#clipd)">
<path d="M56.8 492.2C56.81 478.06 56.81 423.35 56.83 407.34C56.86 391.33 56.86 400.18 56.97 396.15C57.08 392.11 57.23 389.5 57.49 383.12C57.75 376.75 58.09 364.81 58.52 357.89C58.95 350.97 59.44 345.48 60.07 341.61C60.7 337.74 61.1 335.95 62.31 334.69C63.52 333.44 65.5 334.18 67.33 334.08C69.17 333.98 70.92 333.98 73.32 334.08C75.73 334.18 78.55 334.35 81.76 334.69C84.97 335.03 88.61 335.64 92.6 336.12C96.59 336.59 100.75 336.93 105.68 337.54C110.62 338.15 116.13 338.76 122.21 339.78C128.29 340.8 135.06 342.46 142.17 343.64C149.29 344.83 156.46 345.54 164.89 346.9C173.33 348.26 183.46 350.09 192.78 351.78C202.1 353.48 210.97 355.31 220.84 357.08C230.7 358.84 241.58 360.64 251.99 362.37C262.4 364.1 273.16 365.59 283.32 367.45C293.47 369.32 303.4 371.59 312.92 373.56C322.45 375.53 331.45 378.31 340.46 379.26C349.47 380.21 358.19 379.26 366.97 379.26C375.75 379.26 384.3 379.26 393.13 379.26C401.97 379.26 415.51 379.26 419.98 379.26" stroke="#ff8000" stroke-width="1.5" fill="none" stroke-linejoin="round"/>
<path d="M56.8 487.6L61.1 495.3L52.5 495.3Z" fill="#ff8000"/>
<path d="M56.83 402.74L61.13 410.44L52.53 410.44Z" fill="#ff8000"/>
<path d="M56.97 391.55L61.27 399.25L52.67 399.25Z" fill="#ff8000"/>
<path d="M57.49 378.52L61.79 386.22L53.19 386.22Z" fill="#ff8000"/>
<path d="M58.52 353.29L62.82 360.99L54.22 360.99Z" fill="#ff8000"/>
<path d="M60.07 337.01L64.37 344.71L55.77 344.71Z" fill="#ff8000"/>
<path d="M62.31 330.09L66.61 337.79L58.01 337.79Z" fill="#ff8000"/>
<path d="M67.33 329.48L71.63 337.18L63.03 337.18Z" fill="#ff8000"/>
<path d="M73.32 329.48L77.62 337.18L69.02 337.18Z" fill="#ff8000"/>
<path d="M81.76 330.09L86.06 337.79L77.46 337.79Z" fill="#ff8000"/>
<path d="M92.6 331.52L96.9 339.22L88.3 339.22Z" fill="#ff8000"/>
<path d="M105.68 332.94L109.98 340.64L101.38 340.64Z" fill="#ff8000"/>
<path d="M122.21 335.18L126.51 342.88L117.91 342.88Z" fill="#ff8000"/>
<path d="M142.17 339.04L146.47 346.75L137.87 346.75Z" fill="#ff8000"/>
<path d="M164.89 342.3L169.19 350L160.59 350Z" fill="#ff8000"/>
<path d="M192.78 347.18L197.08 354.88L188.48 354.88Z" fill="#ff8000"/>
<path d="M220.84 352.48L225.14 360.18L216.54 360.18Z" fill="#ff8000"/>
<path d="M251.99 357.77L256.29 365.47L247.69 365.47Z" fill="#ff8000"/>
<path d="M283.32 362.85L287.62 370.55L279.02 370.55Z" fill="#ff8000"/>
<path d="M312.92 368.96L317.22 376.66L308.62 376.66Z" fill="#ff8000"/>
<path d="M340.46 374.66L344.76 382.36L336.16 382.36Z" fill="#ff8000"/>
<path d="M366.97 374.66L371.27 382.36L362.67 382.36Z" fill="#ff8000"/>
<path d="M393.13 374.66L397.43 382.36L388.83 382.36Z" fill="#ff8000"/>
<path d="M419.98 374.66L424.28 382.36L415.68 382.36Z" fill="#ff8000"/>
</g>
<g clip-path="url(#clipd)">
<path d="M56.8 492.2C56.8 474.56 56.8 406.39 56.82 386.38C56.83 366.37 56.85 376.2 56.9 372.13C56.96 368.06 57.02 367.05 57.14 361.96C57.27 356.87 57.4 347.72 57.66 341.61C57.92 335.5 58.21 329.23 58.69 325.33C59.18 321.43 59.81 320.31 60.59 318.21C61.36 316.1 62.14 313.9 63.34 312.71C64.55 311.53 65.87 311.36 67.82 311.08C69.77 310.81 72.29 310.71 75.05 311.08C77.8 311.46 80.9 312.78 84.34 313.32C87.78 313.87 91.4 313.87 95.7 314.34C100 314.82 104.65 315.36 110.16 316.17C115.67 316.99 121.92 318.11 128.75 319.23C135.58 320.34 143.09 321.53 151.12 322.89C159.16 324.24 167.59 325.84 176.94 327.37C186.3 328.89 196.39 330.04 207.24 332.05C218.08 334.05 230.53 337.27 242.01 339.37C253.48 341.47 264.5 342.59 276.09 344.66C287.68 346.73 300.18 349.07 311.55 351.78C322.91 354.5 333.75 359.42 344.25 360.94C354.75 362.47 364.5 360.94 374.54 360.94C384.58 360.94 399.5 360.94 404.49 360.94" stroke="#ff0000" stroke-width="1.5" fill="none" stroke-linejoin="round"/>
<path d="M56.8 487.6L61.3 492.2L56.8 496.8L52.3 492.2Z" fill="#ff0000"/>
<path d="M56.82 381.78L61.32 386.38L56.82 390.98L52.32 386.38Z" fill="#ff0000"/>
<path d="M56.9 367.53L61.4 372.13L56.9 376.74L52.4 372.13Z" fill="#ff0000"/>
<path d="M57.14 357.36L61.64 361.96L57.14 366.56L52.64 361.96Z" fill="#ff0000"/>
<path d="M57.66 337.01L62.16 341.61L57.66 346.21L53.16 341.61Z" fill="#ff0000"/>
<path d="M58.69 320.73L63.19 325.33L58.69 329.93L54.19 325.33Z" fill="#ff0000"/>
<path d="M60.59 313.61L65.09 318.21L60.59 322.81L56.09 318.21Z" fill="#ff0000"/>
<path d="M63.34 308.11L67.84 312.71L63.34 317.31L58.84 312.71Z" fill="#ff0000"/>
<path d="M67.82 306.48L72.32 311.08L67.82 315.69L63.32 311.08Z" fill="#ff0000"/>
<path d="M75.05 306.48L79.55 311.08L75.05 315.69L70.55 311.08Z" fill="#ff0000"/>
<path d="M84.34 308.72L88.84 313.32L84.34 317.92L79.84 313.32Z" fill="#ff0000"/>
<path d="M95.7 309.74L100.2 314.34L95.7 318.94L91.2 314.34Z" fill="#ff0000"/>
<path d="M110.16 311.57L114.66 316.17L110.16 320.77L105.66 316.17Z" fill="#ff0000"/>
<path d="M128.75 314.62L133.25 319.23L128.75 323.83L124.25 319.23Z" fill="#ff0000"/>
<path d="M151.12 318.29L155.62 322.89L151.12 327.49L146.62 322.89Z" fill="#ff0000"/>
<path d="M176.94 322.76L181.44 327.37L176.94 331.97L172.44 327.37Z" fill="#ff0000"/>
<path d="M207.24 327.45L211.74 332.05L207.24 336.65L202.74 332.05Z" fill="#ff0000"/>
<path d="M242.01 334.77L246.51 339.37L242.01 343.97L237.51 339.37Z" fill="#ff0000"/>
<path d="M276.09 340.06L280.59 344.66L276.09 349.26L271.59 344.66Z" fill="#ff0000"/>
<path d="M311.55 347.18L316.05 351.78L311.55 356.38L307.05 351.78Z" fill="#ff0000"/>
<path d="M344.25 356.34L348.75 360.94L344.25 365.54L339.75 360.94Z" fill="#ff0000"/>
<path d="M374.54 356.34L379.04 360.94L374.54 365.54L370.04 360.94Z" fill="#ff0000"/>
<path d="M404.49 356.34L408.99 360.94L404.49 365.54L399.99 360.94Z" fill="#ff0000"/>
</g>
<path d="M88.8 417.1H119" stroke="#ff0000" stroke-width="1.5"/>
<path d="M103.9 412.5L108.4 417.1L103.9 421.7L99.4 417.1Z" fill="#ff0000"/>
<text x="123" y="421.7" font-size="12.9" letter-spacing="0.26">PTC-U-1hr</text>
<path d="M88.8 434H119" stroke="#ff8000" stroke-width="1.5"/>
<path d="M103.9 429.4L108.2 437.1L99.6 437.1Z" fill="#ff8000"/>
<text x="123" y="438.6" font-size="12.9" letter-spacing="0.26">PTC-U-2hr</text>
<path d="M88.8 450.9H119" stroke="#00ff00" stroke-width="1.5"/>
<circle cx="103.9" cy="450.9" r="3.5" fill="#00ff00"/>
<text x="123" y="455.5" font-size="12.9" letter-spacing="0.26">PTC-U-4hr</text>
<path d="M88.8 468.1H119" stroke="#0000ff" stroke-width="1.5"/>
<rect x="100.7" y="464.9" width="6.4" height="6.4" fill="#0000ff"/>
<text x="123" y="472.7" font-size="12.9" letter-spacing="0.26">PTC-U</text>
<text x="195.7" y="531.3" text-anchor="middle" font-size="14.66" letter-spacing="0">Current Density (mA/cm<tspan font-size="13.8" dy="-6">2</tspan><tspan dy="6">)</tspan></text>
<text transform="translate(27.5 389) rotate(-90)" text-anchor="middle" font-size="14.85">Luminescence Efficiency (cd/A)</text>
<text x="14.0" y="282.8" font-size="16.5">(d)</text>
<clipPath id="clipe"><rect x="400.7" y="289.9" width="276.4" height="204.7"/></clipPath>
<path d="M401.7 493.6V497.5M436.25 493.6V495.8M470.8 493.6V497.5M505.35 493.6V495.8M539.9 493.6V497.5M574.45 493.6V495.8M609 493.6V497.5M643.55 493.6V495.8M678.1 493.6V497.5M401.7 493.6H397.8M401.7 476.54H399.5M401.7 459.48H397.8M401.7 442.43H399.5M401.7 425.37H397.8M401.7 408.31H399.5M401.7 391.25H397.8M401.7 374.19H399.5M401.7 357.13H397.8M401.7 340.07H399.5M401.7 323.02H397.8M401.7 305.96H399.5M401.7 288.9H397.8" stroke="#000" stroke-width="1.6" fill="none"/>
<text x="470.8" y="510" text-anchor="middle" font-size="11.5">200</text>
<text x="539.9" y="510" text-anchor="middle" font-size="11.5">400</text>
<text x="609" y="510" text-anchor="middle" font-size="11.5">600</text>
<text x="678.1" y="510" text-anchor="middle" font-size="11.5">800</text>
<text x="394.5" y="497.1" text-anchor="end" font-size="11.5">0</text>
<text x="394.5" y="462.98" text-anchor="end" font-size="11.5">1</text>
<text x="394.5" y="428.87" text-anchor="end" font-size="11.5">2</text>
<text x="394.5" y="394.75" text-anchor="end" font-size="11.5">3</text>
<text x="394.5" y="360.63" text-anchor="end" font-size="11.5">4</text>
<text x="394.5" y="326.52" text-anchor="end" font-size="11.5">5</text>
<text x="394.5" y="292.4" text-anchor="end" font-size="11.5">6</text>
<rect x="401.7" y="288.9" width="276.4" height="204.7" fill="none" stroke="#000" stroke-width="2"/>
<g clip-path="url(#clipe)">
<path d="M401.7 493.6C401.7 483.02 401.69 462.21 401.72 430.14C401.75 398.07 401.76 320.74 401.87 301.18C401.99 281.62 402.19 308.01 402.39 312.78C402.59 317.56 402.78 323.64 403.08 329.84C403.38 336.04 403.49 345.87 404.19 349.97C404.89 354.06 406.36 352.3 407.3 354.4C408.24 356.51 408.62 359.86 409.82 362.59C411.02 365.32 412.58 368.28 414.48 370.78C416.38 373.28 418.63 375.16 421.22 377.6C423.81 380.05 426.69 383.01 430.03 385.45C433.37 387.9 436.94 389.94 441.26 392.27C445.58 394.6 450.73 397.16 455.94 399.44C461.15 401.71 466.63 403.87 472.53 405.92C478.43 407.97 484.5 409.73 491.36 411.72C498.21 413.71 505.95 415.93 513.64 417.86C521.33 419.79 529.25 421.56 537.48 423.32C545.72 425.08 554.55 426.56 563.05 428.44C571.54 430.31 579.98 432.53 588.44 434.58C596.91 436.63 605.4 438.79 613.84 440.72C622.27 442.65 630.74 444.13 639.06 446.18C647.38 448.22 655.56 450.9 663.76 453C671.97 455.11 680.35 457.83 688.29 458.8C696.24 459.77 704.13 458.8 711.44 458.8C718.75 458.8 724.48 458.8 732.17 458.8C739.86 458.8 753.33 458.8 757.57 458.8" stroke="#0000ff" stroke-width="1.5" fill="none" stroke-linejoin="round"/>
<rect x="398.5" y="490.4" width="6.4" height="6.4" fill="#0000ff"/>
<rect x="398.52" y="426.94" width="6.4" height="6.4" fill="#0000ff"/>
<rect x="398.67" y="297.98" width="6.4" height="6.4" fill="#0000ff"/>
<rect x="399.19" y="309.58" width="6.4" height="6.4" fill="#0000ff"/>
<rect x="399.88" y="326.64" width="6.4" height="6.4" fill="#0000ff"/>
<rect x="400.99" y="346.77" width="6.4" height="6.4" fill="#0000ff"/>
<rect x="404.1" y="351.2" width="6.4" height="6.4" fill="#0000ff"/>
<rect x="406.62" y="359.39" width="6.4" height="6.4" fill="#0000ff"/>
<rect x="411.28" y="367.58" width="6.4" height="6.4" fill="#0000ff"/>
<rect x="418.02" y="374.4" width="6.4" height="6.4" fill="#0000ff"/>
<rect x="426.83" y="382.25" width="6.4" height="6.4" fill="#0000ff"/>
<rect x="438.06" y="389.07" width="6.4" height="6.4" fill="#0000ff"/>
<rect x="452.74" y="396.24" width="6.4" height="6.4" fill="#0000ff"/>
<rect x="469.33" y="402.72" width="6.4" height="6.4" fill="#0000ff"/>
<rect x="488.16" y="408.52" width="6.4" height="6.4" fill="#0000ff"/>
<rect x="510.44" y="414.66" width="6.4" height="6.4" fill="#0000ff"/>
<rect x="534.28" y="420.12" width="6.4" height="6.4" fill="#0000ff"/>
<rect x="559.85" y="425.24" width="6.4" height="6.4" fill="#0000ff"/>
<rect x="585.24" y="431.38" width="6.4" height="6.4" fill="#0000ff"/>
<rect x="610.64" y="437.52" width="6.4" height="6.4" fill="#0000ff"/>
<rect x="635.86" y="442.98" width="6.4" height="6.4" fill="#0000ff"/>
<rect x="660.56" y="449.8" width="6.4" height="6.4" fill="#0000ff"/>
<rect x="685.09" y="455.6" width="6.4" height="6.4" fill="#0000ff"/>
<rect x="708.24" y="455.6" width="6.4" height="6.4" fill="#0000ff"/>
<rect x="728.97" y="455.6" width="6.4" height="6.4" fill="#0000ff"/>
<rect x="754.37" y="455.6" width="6.4" height="6.4" fill="#0000ff"/>
</g>
<g clip-path="url(#clipe)">
<path d="M401.7 493.6C401.71 462.61 401.68 333.82 401.73 307.66C401.79 281.51 401.82 328.42 402.05 336.66C402.27 344.91 402.72 352.3 403.08 357.13C403.44 361.97 403.84 363.62 404.19 365.66C404.53 367.71 404.62 368.11 405.15 369.42C405.69 370.72 406.44 371.41 407.4 373.51C408.36 375.61 409.59 379.25 410.92 382.04C412.26 384.82 413.59 387.5 415.42 390.23C417.24 392.96 419.3 396.54 421.88 398.41C424.46 400.29 427.66 400.35 430.89 401.49C434.13 402.62 437.26 403.82 441.26 405.24C445.26 406.66 450.1 408.37 454.91 410.01C459.72 411.66 464.52 413.48 470.11 415.13C475.69 416.78 481.95 418.26 488.42 419.91C494.89 421.56 501.8 423.32 508.91 425.03C516.02 426.73 523.41 428.61 531.09 430.14C538.77 431.68 546.88 432.82 555 434.24C563.12 435.66 571.55 437.14 579.81 438.67C588.06 440.21 596.36 442.03 604.51 443.45C612.66 444.87 620.69 445.78 628.69 447.2C636.7 448.62 644.82 450.5 652.53 451.98C660.25 453.46 667.22 454.71 674.99 456.07C682.76 457.44 690.83 459.48 699.18 460.17C707.53 460.85 716.39 460.17 725.09 460.17C733.78 460.17 746.97 460.17 751.35 460.17" stroke="#00ff00" stroke-width="1.5" fill="none" stroke-linejoin="round"/>
<circle cx="401.7" cy="493.6" r="3.5" fill="#00ff00"/>
<circle cx="401.73" cy="307.66" r="3.5" fill="#00ff00"/>
<circle cx="402.05" cy="336.66" r="3.5" fill="#00ff00"/>
<circle cx="403.08" cy="357.13" r="3.5" fill="#00ff00"/>
<circle cx="404.19" cy="365.66" r="3.5" fill="#00ff00"/>
<circle cx="405.15" cy="369.42" r="3.5" fill="#00ff00"/>
<circle cx="407.4" cy="373.51" r="3.5" fill="#00ff00"/>
<circle cx="410.92" cy="382.04" r="3.5" fill="#00ff00"/>
<circle cx="415.42" cy="390.23" r="3.5" fill="#00ff00"/>
<circle cx="421.88" cy="398.41" r="3.5" fill="#00ff00"/>
<circle cx="430.89" cy="401.49" r="3.5" fill="#00ff00"/>
<circle cx="441.26" cy="405.24" r="3.5" fill="#00ff00"/>
<circle cx="454.91" cy="410.01" r="3.5" fill="#00ff00"/>
<circle cx="470.11" cy="415.13" r="3.5" fill="#00ff00"/>
<circle cx="488.42" cy="419.91" r="3.5" fill="#00ff00"/>
<circle cx="508.91" cy="425.03" r="3.5" fill="#00ff00"/>
<circle cx="531.09" cy="430.14" r="3.5" fill="#00ff00"/>
<circle cx="555" cy="434.24" r="3.5" fill="#00ff00"/>
<circle cx="579.81" cy="438.67" r="3.5" fill="#00ff00"/>
<circle cx="604.51" cy="443.45" r="3.5" fill="#00ff00"/>
<circle cx="628.69" cy="447.2" r="3.5" fill="#00ff00"/>
<circle cx="652.53" cy="451.98" r="3.5" fill="#00ff00"/>
<circle cx="674.99" cy="456.07" r="3.5" fill="#00ff00"/>
<circle cx="699.18" cy="460.17" r="3.5" fill="#00ff00"/>
<circle cx="725.09" cy="460.17" r="3.5" fill="#00ff00"/>
<circle cx="751.35" cy="460.17" r="3.5" fill="#00ff00"/>
</g>
<g clip-path="url(#clipe)">
<path d="M401.7 493.6C401.71 464.03 401.71 343.2 401.73 316.19C401.76 289.18 401.76 327.28 401.87 331.55C401.98 335.81 402.13 338.65 402.39 341.78C402.65 344.91 403 347.35 403.43 350.31C403.86 353.27 404.35 356.68 404.98 359.52C405.62 362.36 406.01 364.81 407.23 367.37C408.44 369.93 410.43 372.32 412.27 374.87C414.11 377.43 415.87 380.22 418.28 382.72C420.7 385.22 423.52 387.55 426.75 389.89C429.97 392.22 433.63 394.6 437.63 396.71C441.63 398.81 445.81 400.52 450.76 402.51C455.71 404.5 461.24 406.6 467.35 408.65C473.45 410.7 480.24 412.91 487.38 414.79C494.52 416.67 501.72 418.03 510.19 419.91C518.65 421.78 528.82 424.17 538.17 426.05C547.53 427.93 556.43 429.57 566.33 431.17C576.24 432.76 587.15 434.01 597.6 435.6C608.05 437.19 618.85 439.13 629.04 440.72C639.23 442.31 649.19 443.62 658.75 445.15C668.31 446.69 677.35 449.13 686.39 449.93C695.43 450.73 704.19 449.93 713 449.93C721.81 449.93 730.39 449.93 739.25 449.93C748.12 449.93 761.71 449.93 766.2 449.93" stroke="#ff8000" stroke-width="1.5" fill="none" stroke-linejoin="round"/>
<path d="M401.7 489L406 496.7L397.4 496.7Z" fill="#ff8000"/>
<path d="M401.73 311.59L406.03 319.29L397.43 319.29Z" fill="#ff8000"/>
<path d="M401.87 326.95L406.17 334.65L397.57 334.65Z" fill="#ff8000"/>
<path d="M402.39 337.18L406.69 344.88L398.09 344.88Z" fill="#ff8000"/>
<path d="M403.43 345.71L407.73 353.41L399.13 353.41Z" fill="#ff8000"/>
<path d="M404.98 354.92L409.28 362.62L400.68 362.62Z" fill="#ff8000"/>
<path d="M407.23 362.77L411.53 370.47L402.93 370.47Z" fill="#ff8000"/>
<path d="M412.27 370.27L416.57 377.97L407.97 377.97Z" fill="#ff8000"/>
<path d="M418.28 378.12L422.58 385.82L413.98 385.82Z" fill="#ff8000"/>
<path d="M426.75 385.29L431.05 392.99L422.45 392.99Z" fill="#ff8000"/>
<path d="M437.63 392.11L441.93 399.81L433.33 399.81Z" fill="#ff8000"/>
<path d="M450.76 397.91L455.06 405.61L446.46 405.61Z" fill="#ff8000"/>
<path d="M467.35 404.05L471.65 411.75L463.05 411.75Z" fill="#ff8000"/>
<path d="M487.38 410.19L491.68 417.89L483.08 417.89Z" fill="#ff8000"/>
<path d="M510.19 415.31L514.49 423.01L505.89 423.01Z" fill="#ff8000"/>
<path d="M538.17 421.45L542.47 429.15L533.87 429.15Z" fill="#ff8000"/>
<path d="M566.33 426.57L570.63 434.27L562.03 434.27Z" fill="#ff8000"/>
<path d="M597.6 431L601.9 438.7L593.3 438.7Z" fill="#ff8000"/>
<path d="M629.04 436.12L633.34 443.82L624.74 443.82Z" fill="#ff8000"/>
<path d="M658.75 440.55L663.05 448.25L654.45 448.25Z" fill="#ff8000"/>
<path d="M686.39 445.33L690.69 453.03L682.09 453.03Z" fill="#ff8000"/>
<path d="M713 445.33L717.3 453.03L708.7 453.03Z" fill="#ff8000"/>
<path d="M739.25 445.33L743.55 453.03L734.95 453.03Z" fill="#ff8000"/>
<path d="M766.2 445.33L770.5 453.03L761.9 453.03Z" fill="#ff8000"/>
</g>
<g clip-path="url(#clipe)">
<path d="M401.7 493.6C401.7 460.62 401.7 327.39 401.72 295.72C401.73 264.05 401.75 300.95 401.8 303.57C401.86 306.19 401.92 308.46 402.05 311.42C402.17 314.37 402.3 318.64 402.56 321.31C402.82 323.98 403.11 323.81 403.6 327.45C404.09 331.09 404.72 339.79 405.5 343.15C406.28 346.5 407.06 345.14 408.26 347.58C409.47 350.03 410.8 354.63 412.76 357.82C414.71 361 417.25 363.5 420.01 366.69C422.78 369.87 425.88 374.08 429.34 376.92C432.79 379.76 436.42 381.47 440.74 383.74C445.06 386.02 449.72 388.29 455.25 390.57C460.78 392.84 467.06 395.12 473.91 397.39C480.76 399.67 488.31 402 496.37 404.21C504.43 406.43 512.89 408.59 522.28 410.7C531.67 412.8 541.8 414.68 552.68 416.84C563.57 419 576.06 421.67 587.58 423.66C599.1 425.65 610.15 427.02 621.78 428.78C633.42 430.54 645.97 432.42 657.37 434.24C668.77 436.06 679.65 438.79 690.19 439.7C700.73 440.61 710.52 439.7 720.6 439.7C730.67 439.7 745.65 439.7 750.65 439.7" stroke="#ff0000" stroke-width="1.5" fill="none" stroke-linejoin="round"/>
<path d="M401.7 489L406.2 493.6L401.7 498.2L397.2 493.6Z" fill="#ff0000"/>
<path d="M401.72 291.12L406.22 295.72L401.72 300.32L397.22 295.72Z" fill="#ff0000"/>
<path d="M401.8 298.97L406.3 303.57L401.8 308.17L397.3 303.57Z" fill="#ff0000"/>
<path d="M402.05 306.82L406.55 311.42L402.05 316.02L397.55 311.42Z" fill="#ff0000"/>
<path d="M402.56 316.71L407.06 321.31L402.56 325.91L398.06 321.31Z" fill="#ff0000"/>
<path d="M403.6 322.85L408.1 327.45L403.6 332.05L399.1 327.45Z" fill="#ff0000"/>
<path d="M405.5 338.55L410 343.15L405.5 347.75L401 343.15Z" fill="#ff0000"/>
<path d="M408.26 342.98L412.76 347.58L408.26 352.18L403.76 347.58Z" fill="#ff0000"/>
<path d="M412.76 353.22L417.26 357.82L412.76 362.42L408.26 357.82Z" fill="#ff0000"/>
<path d="M420.01 362.09L424.51 366.69L420.01 371.29L415.51 366.69Z" fill="#ff0000"/>
<path d="M429.34 372.32L433.84 376.92L429.34 381.52L424.84 376.92Z" fill="#ff0000"/>
<path d="M440.74 379.14L445.24 383.74L440.74 388.34L436.24 383.74Z" fill="#ff0000"/>
<path d="M455.25 385.97L459.75 390.57L455.25 395.17L450.75 390.57Z" fill="#ff0000"/>
<path d="M473.91 392.79L478.41 397.39L473.91 401.99L469.41 397.39Z" fill="#ff0000"/>
<path d="M496.37 399.61L500.87 404.21L496.37 408.81L491.87 404.21Z" fill="#ff0000"/>
<path d="M522.28 406.1L526.78 410.7L522.28 415.3L517.78 410.7Z" fill="#ff0000"/>
<path d="M552.68 412.24L557.18 416.84L552.68 421.44L548.18 416.84Z" fill="#ff0000"/>
<path d="M587.58 419.06L592.08 423.66L587.58 428.26L583.08 423.66Z" fill="#ff0000"/>
<path d="M621.78 424.18L626.28 428.78L621.78 433.38L617.28 428.78Z" fill="#ff0000"/>
<path d="M657.37 429.64L661.87 434.24L657.37 438.84L652.87 434.24Z" fill="#ff0000"/>
<path d="M690.19 435.1L694.69 439.7L690.19 444.3L685.69 439.7Z" fill="#ff0000"/>
<path d="M720.6 435.1L725.1 439.7L720.6 444.3L716.1 439.7Z" fill="#ff0000"/>
<path d="M750.65 435.1L755.15 439.7L750.65 444.3L746.15 439.7Z" fill="#ff0000"/>
</g>
<path d="M563.2 305.3H593.6" stroke="#ff0000" stroke-width="1.5"/>
<path d="M578.4 300.7L582.9 305.3L578.4 309.9L573.9 305.3Z" fill="#ff0000"/>
<text x="597.6" y="309.9" font-size="12.9" letter-spacing="0.26">PTC-U-1hr</text>
<path d="M563.2 322.6H593.6" stroke="#ff8000" stroke-width="1.5"/>
<path d="M578.4 318L582.7 325.7L574.1 325.7Z" fill="#ff8000"/>
<text x="597.6" y="327.2" font-size="12.9" letter-spacing="0.26">PTC-U-2hr</text>
<path d="M563.2 339.8H593.6" stroke="#00ff00" stroke-width="1.5"/>
<circle cx="578.4" cy="339.8" r="3.5" fill="#00ff00"/>
<text x="597.6" y="344.4" font-size="12.9" letter-spacing="0.26">PTC-U-4hr</text>
<path d="M563.2 356.8H593.6" stroke="#0000ff" stroke-width="1.5"/>
<rect x="575.2" y="353.6" width="6.4" height="6.4" fill="#0000ff"/>
<text x="597.6" y="361.4" font-size="12.9" letter-spacing="0.26">PTC-U</text>
<text x="554.9" y="531.7" text-anchor="middle" font-size="14.85" letter-spacing="0">Current Density (mA/cm<tspan font-size="13.8" dy="-6">2</tspan><tspan dy="6">)</tspan></text>
<text transform="translate(373.4 385.8) rotate(-90)" text-anchor="middle" font-size="14.95">Power Efficiency (lm/W)</text>
<text x="359.4" y="283.8" font-size="16.7">(e)</text>
<text x="695.6" y="289.3" font-size="17.5">(f)</text>
<rect x="713.3" y="420.4" width="30.5" height="3" fill="#000"/>
<rect x="749" y="358.8" width="30.6" height="3" fill="#000"/>
<rect x="749.2" y="432.5" width="30.5" height="3" fill="#000"/>
<rect x="783.9" y="302.6" width="30.7" height="3" fill="#0000ff"/>
<rect x="818.2" y="302.6" width="30.8" height="3" fill="#ff0000"/>
<rect x="784.4" y="427.9" width="30.4" height="3" fill="#0000ff"/>
<rect x="819" y="427.9" width="30.2" height="3" fill="#ff0000"/>
<rect x="857.3" y="318.2" width="30.7" height="3" fill="#000"/>
<rect x="892.7" y="333" width="30.3" height="3" fill="#000"/>
<rect x="856.1" y="444.7" width="30.6" height="3" fill="#000"/>
<rect x="894.2" y="459.5" width="30.9" height="3" fill="#000"/>
<rect x="933.1" y="405.6" width="31" height="3" fill="#000"/>
<text x="800.5" y="298.5" text-anchor="middle" font-size="9.5" fill="#0000ff" style="stroke:#0000ff">-2.12eV</text>
<text x="833.6" y="298.5" text-anchor="middle" font-size="9.5" fill="#ff0000" style="stroke:#ff0000">-2.12eV</text>
<text x="764.3" y="356.4" text-anchor="middle" font-size="9.5" fill="#000" style="stroke:#000">-3.70eV</text>
<text x="871.9" y="314.1" text-anchor="middle" font-size="9.5" fill="#000" style="stroke:#000">-2.6eV</text>
<text x="909" y="329.9" text-anchor="middle" font-size="9.5" fill="#000" style="stroke:#000">-3.0eV</text>
<text x="729.2" y="436.4" text-anchor="middle" font-size="9.5" fill="#000" style="stroke:#000">ITO</text>
<text x="727.9" y="448" text-anchor="middle" font-size="9.5" fill="#000" style="stroke:#000">-4.9eV</text>
<text x="765.6" y="449.2" text-anchor="middle" font-size="9.5" fill="#000" style="stroke:#000">PEDOT</text>
<text x="764.8" y="461" text-anchor="middle" font-size="9.5" fill="#000" style="stroke:#000">-5.20eV</text>
<text x="800.8" y="443.3" text-anchor="middle" font-size="9.5" fill="#0000ff" style="stroke:#0000ff">PTC-U</text>
<text x="799.2" y="456.6" text-anchor="middle" font-size="9.5" fill="#0000ff" style="stroke:#0000ff">-5.15eV</text>
<text x="834.9" y="443.3" text-anchor="middle" font-size="9.5" fill="#ff0000" style="stroke:#ff0000">PTC-U</text>
<text x="833.7" y="456.6" text-anchor="middle" font-size="9.5" fill="#ff0000" style="stroke:#ff0000">-1hr</text>
<text x="832.8" y="469.5" text-anchor="middle" font-size="9.5" fill="#ff0000" style="stroke:#ff0000">-5.15eV</text>
<text x="872.7" y="459.6" text-anchor="middle" font-size="9.5" fill="#000" style="stroke:#000">NPB</text>
<text x="873.6" y="472.9" text-anchor="middle" font-size="9.5" fill="#000" style="stroke:#000">-5.4eV</text>
<text x="909.6" y="474.4" text-anchor="middle" font-size="9.5" fill="#000" style="stroke:#000">Alq3</text>
<text x="910.5" y="487.4" text-anchor="middle" font-size="9.5" fill="#000" style="stroke:#000">-5.8eV</text>
<text x="948.3" y="420.1" text-anchor="middle" font-size="9.5" fill="#000" style="stroke:#000">LiF:Al</text>
<text x="947.4" y="433" text-anchor="middle" font-size="9.5" fill="#000" style="stroke:#000">-4.2eV</text>
</svg>
</body></html>
